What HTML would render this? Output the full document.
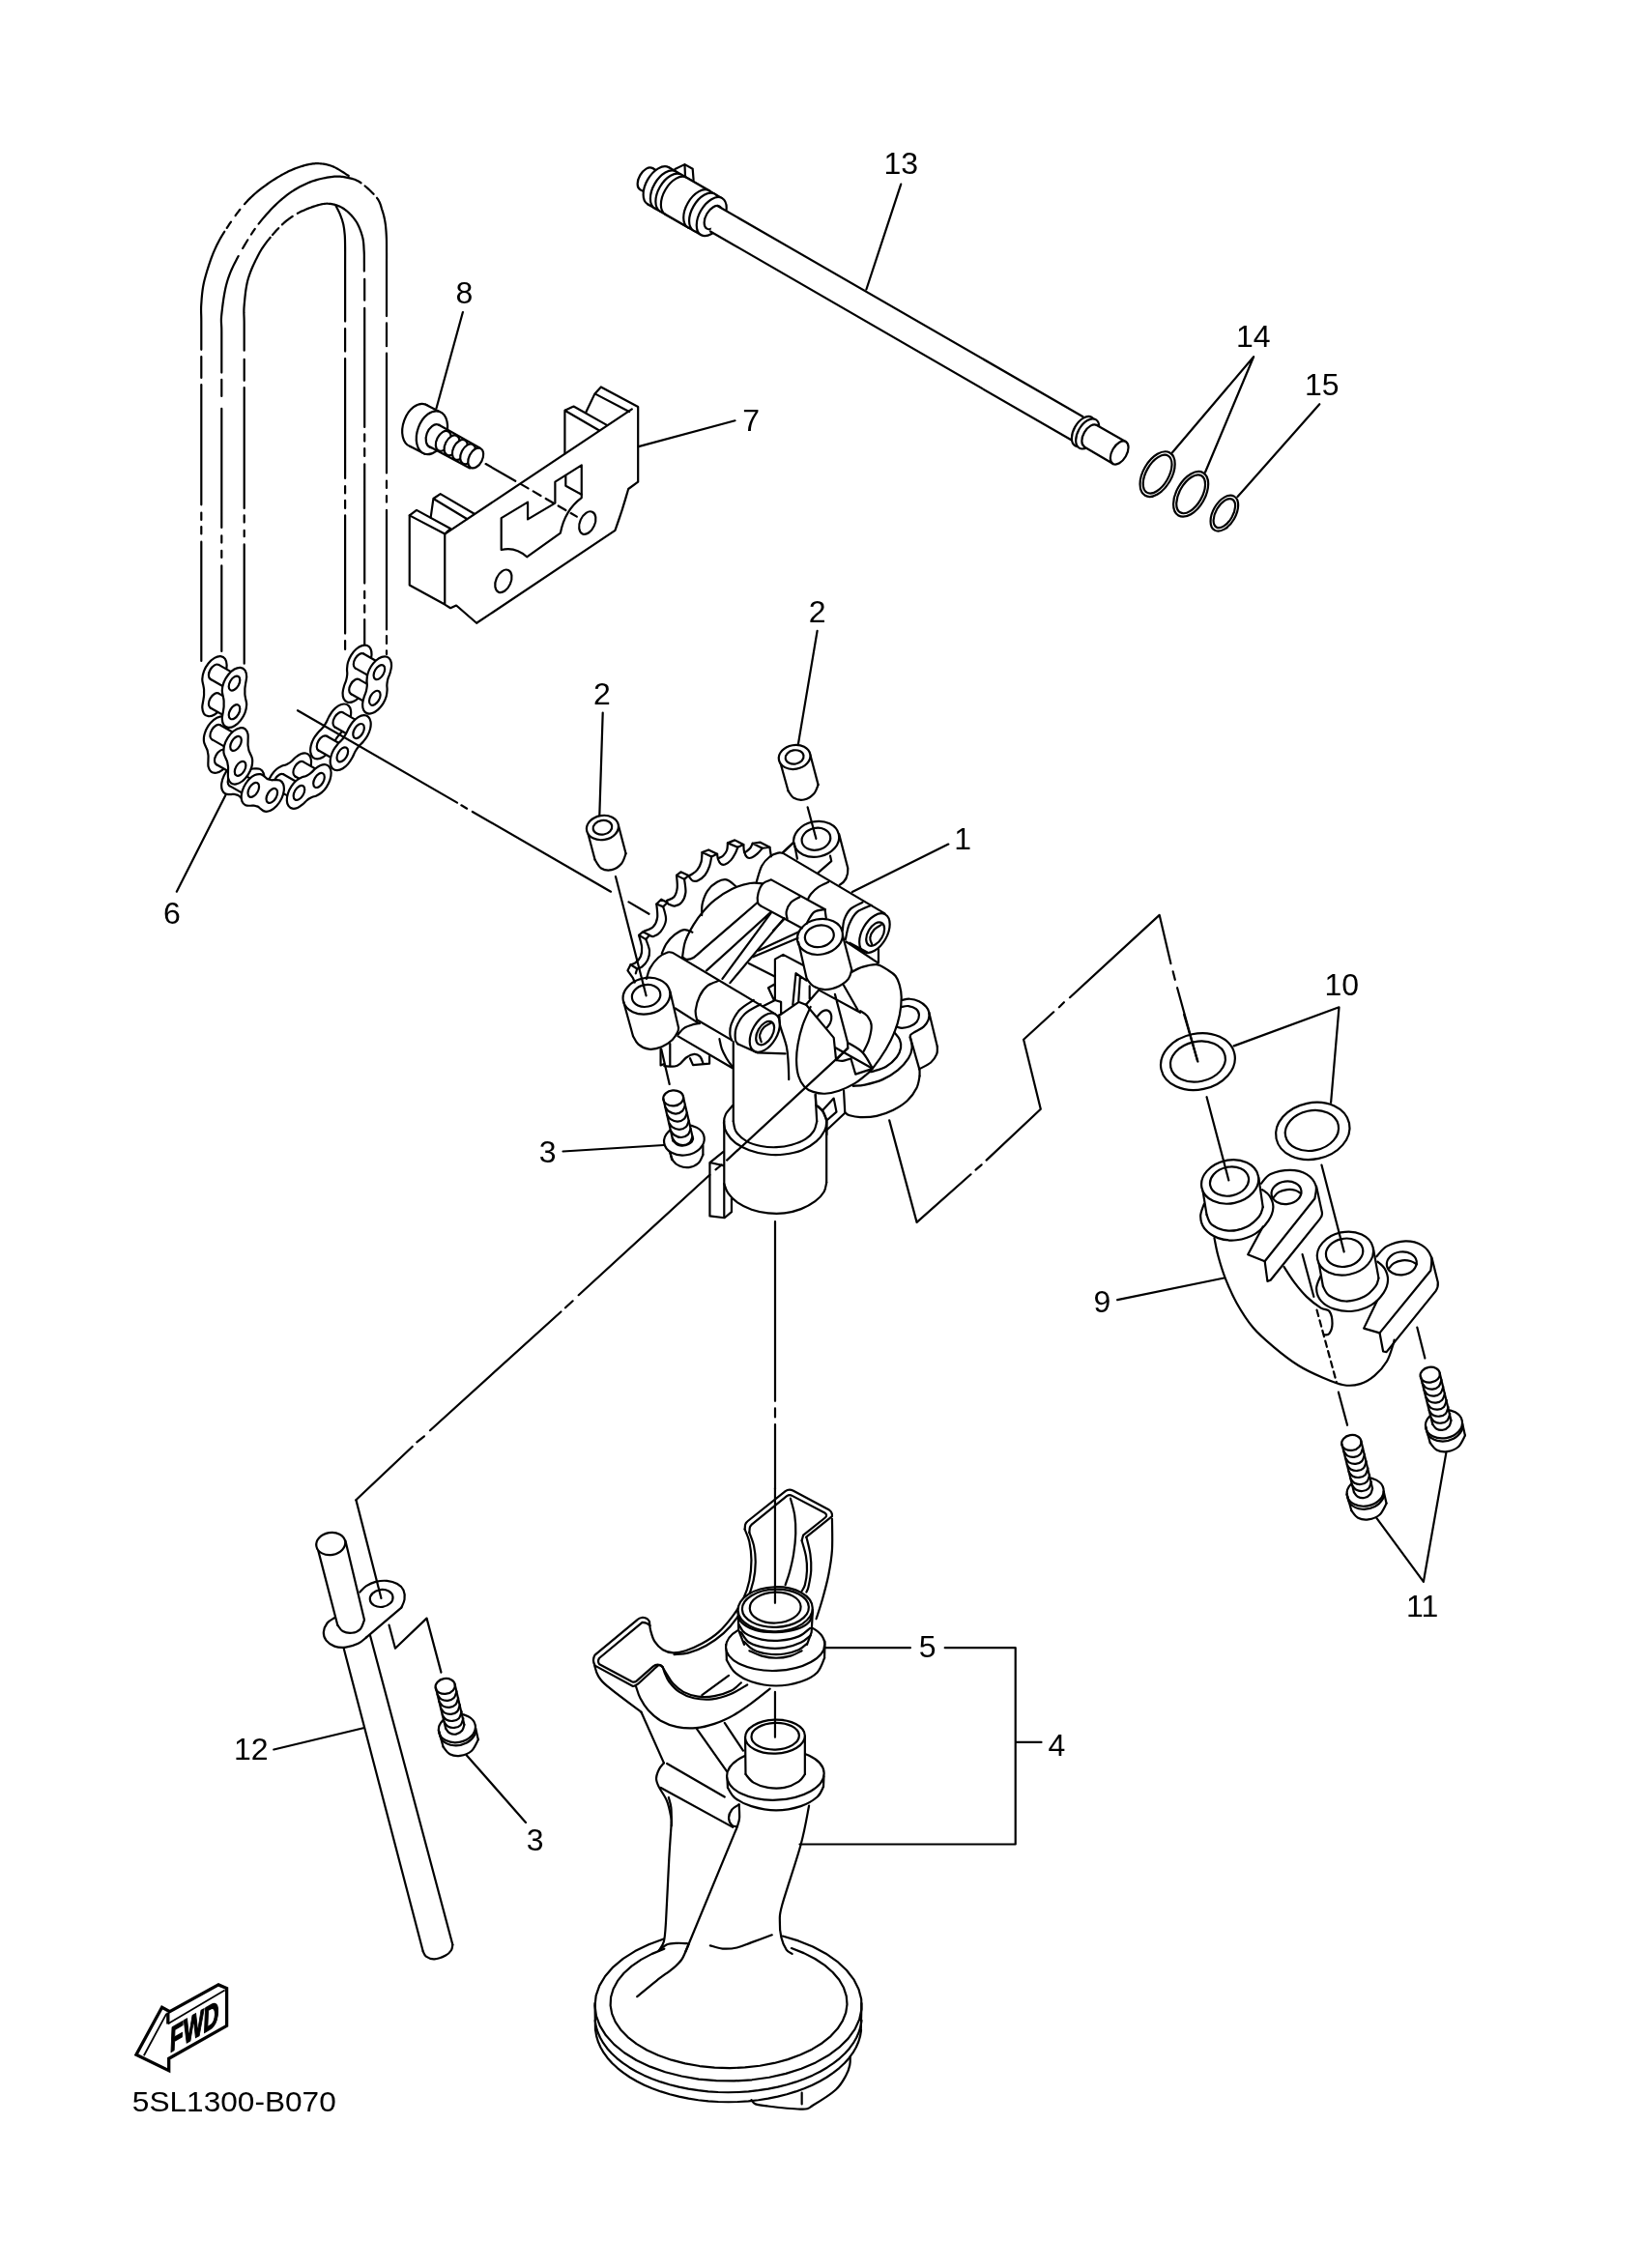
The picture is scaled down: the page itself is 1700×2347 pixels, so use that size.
<!DOCTYPE html>
<html><head><meta charset="utf-8"><title>5SL1300-B070</title>
<style>
html,body{margin:0;padding:0;background:#fff;}
svg{display:block;filter:grayscale(1);}
svg path,svg ellipse,svg line,svg polyline,svg polygon,svg circle,svg rect{vector-effect:non-scaling-stroke;}
.k{fill:none;stroke:#000;stroke-width:2.2;stroke-linecap:round;stroke-linejoin:round;}
.w{fill:#fff;stroke:#000;stroke-width:2.2;stroke-linecap:round;stroke-linejoin:round;}
.n{fill:#fff;stroke:none;}
.t{font-family:"Liberation Sans",sans-serif;font-size:32px;fill:#000;stroke:none;text-anchor:middle;}
</style></head><body>
<svg width="1700" height="2347" viewBox="0 0 1700 2347">
<rect x="0" y="0" width="1700" height="2347" fill="#fff" stroke="none"/>
<!-- 10_chain.svgfrag -->
<path class="k" d="M208.3,369 L208.3,391 M208.3,398 L208.3,522.3 M208.3,530.5 L208.3,537.9 M208.3,545 L208.3,552.5 M208.3,560.7 L208.3,684 M229.3,392.8 L229.3,410 M229.3,422.8 L229.3,546 M229.3,554.3 L229.3,561.6 M229.3,569.8 L229.3,577 M229.3,585.3 L229.3,674 M252.7,371.8 L252.7,393.8 M252.7,401 L252.7,526 M252.7,533.3 L252.7,540.6 M252.7,548.8 L252.7,555.2 M252.7,563.4 L252.7,686.7 M357.1,340 L357.1,363.6 M357.1,371 L357.1,495 M357.1,503 L357.1,510.5 M357.1,517.8 L357.1,526 M357.1,533.3 L357.1,655.6 M357.1,663 L357.1,672 M377.2,288.8 L377.2,310.7 M377.2,318.9 L377.2,442 M377.2,449.3 L377.2,456.6 M377.2,464 L377.2,472 M377.2,480.3 L377.2,603.6 M377.2,611.8 L377.2,619 M377.2,626.4 L377.2,633.7 M377.2,641 L377.2,668.4 M400,334.4 L400,358.2 M400,365.5 L400,489.5 M400,497.7 L400,505 M400,513.2 L400,519.6 M400,527.8 L400,651.4 M400,658.1 L400,666 M400,673.3 L400,677"/>
<g class="k" transform="translate(180,150) scale(0.18259)">
<path d="M155,1160 L155,1152.1 L155,1141.9 L155,1129.8 L155,1116.3 L155,1101.6 L155,1086.2 L155,1070.5 L155,1054.8 L155,1039.5 L155,1025 L155,1011.7 L155,1000 L154.9,989.7 L154.8,980.2 L154.6,971.5 L154.4,963.3 L154.1,955.6 L153.9,948.1 L153.8,940.8 L153.7,933.3 L153.8,925.7 L154,917.7 L154.4,909.2 L155,900 L155.7,890.3 L156.4,880.5 L157.1,870.5 L158,860.4 L158.9,850 L160,839.4 L161.3,828.5 L162.8,817.4 L164.6,806 L166.7,794.3 L169.2,782.3 L172,770 L175.3,757.1 L178.9,743.5 L182.9,729.4 L187.2,714.8 L191.8,700 L196.6,685 L201.6,670 L206.7,655.2 L212,640.6 L217.3,626.5 L222.6,612.9 L228,600 L233.4,587.8 L238.8,576.1 L244.2,564.8 L249.8,553.9 L255.4,543.3 L261.2,532.8 L267.2,522.5 L273.3,512.2 L279.7,501.9 L286.2,491.5 M300,470 L307.4,458.8 L315,447.3 L323,435.6 M348.2,400.1 L356.9,388.5 L365.6,377 L374.3,365.8 M400,335 L408.3,325.8 L416.4,317 L424.5,308.6 L432.6,300.6 L440.7,292.9 L448.8,285.4 L456.9,278.2 L465.2,271 L473.6,264 L482.2,257 L491,250 L500,243 L509.4,235.9 L519.1,228.8 L529.1,221.7 L539.3,214.7 L549.6,207.7 L560,200.9 L570.4,194.3 L580.7,187.9 L590.9,181.7 L600.9,175.8 L610.6,170.2 L620,165 L629.1,160.1 L637.9,155.5 L646.6,151.2 L655.2,147.1 L663.6,143.3 L671.9,139.7 L680.1,136.3 L688.1,133.1 L696.2,130.1 L704.1,127.3 L712.1,124.6 L720,122 L727.9,119.6 L735.6,117.3 L743.2,115.1 L750.7,113.1 L758.2,111.4 L765.6,109.8 L773,108.4 L780.4,107.2 L787.7,106.2 L795.1,105.6 L802.5,105.1 L810,105 L817.5,105.1 L825,105.4 L832.5,106 L840,106.8 L847.5,107.9 L855,109.1 L862.5,110.6 L870,112.4 L877.5,114.4 L885,116.7 L892.5,119.2 L900,122 L907.8,125.3 L916,129.4 L924.6,134 L933.3,139 L942.1,144.2 L950.6,149.6 L958.9,154.9 L966.7,159.9 L973.8,164.6 L980.2,168.8 L985.7,172.3 L990,175"/>
<path d="M270,1290 L270,1278.5 L270,1263.5 L270,1245.6 L270,1225.6 L270,1203.9 L270,1181.2 L270,1158.3 L270,1135.6 L270,1113.8 L270,1093.5 L270,1075.3 L270,1060 L269.9,1047.4 L269.7,1036.7 L269.3,1027.7 L268.9,1020 L268.5,1013.2 L268.1,1006.9 L267.9,1000.8 L267.8,994.4 L267.9,987.6 L268.3,979.8 L268.9,970.7 L270,960 L271.3,947.7 L272.9,934.3 L274.6,919.9 L276.5,904.8 L278.6,889.2 L280.9,873.1 L283.5,856.9 L286.3,840.7 L289.3,824.8 L292.6,809.2 L296.2,794.2 L300,780 L304,766.6 L308.2,753.6 L312.6,741.2 L317.2,729 L322.1,717 L327.2,705.2 L332.6,693.3 L338.3,681.3 L344.4,669.1 L350.9,656.6 L357.7,643.6 L365,630 M389.6,585.7 L398.7,570.1 L408.1,554.3 L417.8,538.3 M438,506.6 L448.3,491 L458.8,475.8 M480,447 L490.8,433.3 L501.9,419.7 L513.2,406.3 L524.8,393 L536.6,380.1 L548.4,367.4 L560.4,355 L572.4,343.1 L584.4,331.5 L596.4,320.5 L608.3,310 L620,300 L631.7,290.6 L643.3,281.7 L655,273.2 L666.7,265.2 L678.3,257.7 L690,250.5 L701.7,243.7 L713.3,237.3 L725,231.3 L736.7,225.6 L748.3,220.1 L760,215 L771.8,210.2 L783.9,205.8 L796.2,201.8 L808.5,198.1 L820.9,194.7 L833.1,191.8 L845.2,189.1 L857,186.7 L868.5,184.6 L879.6,182.8 L890.1,181.3 L900,180 L909.3,179 L918.1,178.5 L926.5,178.3 L934.4,178.4 L942.1,178.9 L949.4,179.6 L956.4,180.5 L963.3,181.6 L970.1,182.8 L976.7,184.1 L983.4,185.5 L990,187 L996.5,188.4 L1002.6,189.8 L1008.4,191.2 L1014.1,192.7 L1019.6,194.3 L1025,196.1 L1030.4,198.2 L1035.9,200.7 L1041.6,203.5 L1047.4,206.8 L1053.5,210.6 L1060,215 M1082.5,232.6 L1090.7,239.7 L1099.1,247.1 L1107.5,254.9 L1115.7,262.8 L1123.7,270.7 L1131.2,278.5 M1150,300 L1154.6,306.4 L1158.6,312.5 L1162,318.6 L1164.9,324.4 L1167.4,330.2 L1169.6,335.9 L1171.5,341.6 L1173.2,347.2 L1174.8,352.9 L1176.4,358.5 L1178.1,364.2 L1180,370 L1181.9,375.8 L1183.7,381.6 L1185.4,387.3 L1187,393 L1188.5,398.7 L1189.9,404.4 L1191.3,410.1 L1192.6,415.9 L1193.8,421.8 L1194.9,427.8 L1196,433.8 L1197,440 L1198,446.3 L1198.8,452.8 L1199.6,459.3 L1200.3,465.9 L1200.9,472.6 L1201.5,479.4 L1202,486.2 L1202.5,493 L1202.9,499.8 L1203.3,506.6 L1203.7,513.3 L1204,520 L1204.3,526.6 L1204.5,533.1 L1204.7,539.5 L1204.8,545.9 L1204.9,552.3 L1204.9,558.8 L1205,565.2 L1205,571.9 L1205,578.6 L1205,585.5 L1205,592.6 L1205,600 L1205,607.1 L1205.1,613.5 L1205.1,619.6 L1205.1,625.6 L1205.1,631.6 L1205.1,638.1 L1205.1,645.3 L1205,653.3 L1205,662.6 L1205,673.3 L1205,685.7 L1205,700 L1205,717.4 L1205,738.3 L1205,761.9 L1205,787.4 L1205,814.1 L1205,841.2 L1205,868 L1205,893.7 L1205,917.5 L1205,938.7 L1205,956.4 L1205,970"/>
<path d="M398,1165 L398,1157.3 L398,1147.5 L398,1135.9 L398,1122.8 L398,1108.6 L398,1093.8 L398,1078.5 L398,1063.3 L398,1048.5 L398,1034.4 L398,1021.5 L398,1010 L397.9,999.9 L397.7,990.7 L397.5,982.3 L397.2,974.4 L396.9,967 L396.6,959.7 L396.4,952.4 L396.4,945 L396.5,937.2 L396.7,928.9 L397.2,919.9 L398,910 L398.9,899.2 L400,887.8 L401.1,875.8 L402.3,863.3 L403.7,850.5 L405.2,837.5 L407,824.3 L409,811.1 L411.3,798 L413.9,785 L416.8,772.3 L420,760 L423.7,747.8 L427.8,735.5 L432.3,723.1 L437.2,710.7 L442.3,698.3 L447.6,686.1 L453.1,674.1 L458.6,662.4 L464.1,651.1 L469.6,640.2 L474.9,629.8 L480,620 L484.9,610.8 L489.8,602.3 L494.5,594.3 L499.3,586.8 L504,579.6 L508.8,572.7 L513.6,566 L518.5,559.3 L523.6,552.7 L528.8,546 L534.3,539.1 L540,532 L546,524.6 M558.6,509.5 L565.2,501.8 L571.9,494.2 L578.8,486.6 L585.7,479.1 L592.6,471.7 M613.3,451.2 L620,445 L626.6,439.2 L633.1,433.6 L639.5,428.3 L645.9,423.2 L652.3,418.4 L658.8,413.7 L665.2,409.2 L671.9,404.8 M700,388 L707.7,383.9 L715.7,379.8 L724.1,375.8 L732.6,371.8 L741.3,368 L750,364.2 L758.7,360.7 L767.4,357.3 L775.9,354.1 L784.3,351.1 L792.3,348.4 L800,346 L807.4,343.8 L814.5,341.7 L821.4,339.8 L828.1,338 L834.8,336.5 L841.2,335.2 L847.7,334.1 L854.1,333.3 L860.5,332.8 L866.9,332.5 L873.4,332.6 L880,333 L886.7,333.7 L893.4,334.7 L900.2,335.9 L907,337.4 L913.8,339.2 L920.6,341.3 L927.4,343.7 L934.1,346.3 L940.7,349.3 L947.2,352.5 L953.7,356.1 L960,360 L966.3,364.3 L972.6,368.9 L979,374 L985.3,379.4 L991.5,385.1 L997.6,391.1 L1003.6,397.2 L1009.4,403.6 L1015,410.1 L1020.3,416.7 L1025.3,423.3 L1030,430 L1034.4,436.8 L1038.5,444 L1042.4,451.3 L1046.1,458.9 L1049.6,466.6 L1052.8,474.4 L1055.8,482.2 L1058.7,490 L1061.3,497.7 L1063.7,505.3 L1066,512.8 L1068,520 L1069.8,527.1 L1071.3,534.1 L1072.5,541.2 L1073.4,548.1 L1074.2,555.1 L1074.8,561.9 L1075.3,568.6 L1075.7,575.2 L1076,581.6 L1076.3,587.9 L1076.6,594.1 L1077,600 L1077.4,605.7 L1077.6,611.2 L1077.8,616.5 L1078,621.7 L1078,626.7 L1078.1,631.6 L1078.1,636.4 L1078,641.1 L1078,645.8 L1078,650.5 L1078,655.2 L1078,660 L1078,664.9 L1078.1,670.1 L1078.1,675.4 L1078.1,680.7 L1078.1,686.1 L1078.1,691.2 L1078.1,696.2 L1078,700.9 L1078,705.2 L1078,709.1 L1078,712.4 L1078,715"/>
<path d="M915,340 C919.5,349.2 934.5,376.7 942,395 C949.5,413.3 955.7,430.8 960,450 C964.3,469.2 966.3,488.3 968,510 C969.7,531.7 969.7,548.3 970,580 C970.3,611.7 970,630 970,700 C970,770 970,950 970,1000"/>
</g>
<g class="k" transform="translate(190,650) scale(0.15216)">
<path class="w" d="M210,588.3 C223.9,580.3 239.7,566.3 251.7,551.3 C263.8,536.3 275.3,516.2 282.2,498.3 C289.2,480.3 292.6,459.6 293.3,443.6 C293.9,427.6 288.2,413.5 286.3,402.3 C284.4,391.1 282.6,384.3 281.8,376.3 C281,368.2 281.6,361.5 281.6,354.1 C281.6,346.7 281,340.7 281.8,331.8 C282.6,322.9 284.4,314 286.3,300.6 C288.2,287.2 293.9,266.5 293.3,251.3 C292.6,236.1 289.2,219.3 282.2,209.3 C275.3,199.3 263.8,192.6 251.7,191.5 C239.7,190.4 223.9,194.6 210,202.7 C196.1,210.7 180.3,224.7 168.3,239.7 C156.2,254.7 144.7,274.8 137.8,292.7 C130.8,310.7 127.4,331.4 126.7,347.4 C126.1,363.4 131.8,377.5 133.7,388.7 C135.6,399.9 137.4,406.7 138.2,414.7 C139,422.8 138.4,429.5 138.4,436.9 C138.4,444.3 139,450.3 138.2,459.2 C137.4,468.1 135.6,477 133.7,490.4 C131.8,503.8 126.1,524.5 126.7,539.7 C127.4,554.9 130.8,571.7 137.8,581.7 C144.7,591.7 156.2,598.4 168.3,599.5 C180.3,600.6 196.1,596.4 210,588.3 Z"/>
<path class="w" d="M265,963.1 C278.6,952.4 293.1,936 303.6,919.7 C314.2,903.4 323.4,882.8 328.1,865.2 C332.8,847.6 333.6,828.4 332.1,814.1 C330.5,799.7 322.7,788.4 318.9,778.9 C315.1,769.4 311.5,763.9 309.2,756.9 C307,750 306.6,743.9 305.4,737.3 C304.3,730.7 302.7,725.5 302.2,717.2 C301.8,708.8 302.8,699.7 302.7,687.2 C302.6,674.7 305.1,655.3 301.8,642.3 C298.5,629.3 292,616 282.9,609.2 C273.9,602.5 260.6,599.8 247.6,602 C234.6,604.3 218.5,612.2 205,622.9 C191.4,633.6 176.9,650 166.4,666.3 C155.8,682.6 146.6,703.2 141.9,720.8 C137.2,738.4 136.4,757.6 137.9,771.9 C139.5,786.3 147.3,797.6 151.1,807.1 C154.9,816.6 158.5,822.1 160.8,829.1 C163,836 163.4,842.1 164.6,848.7 C165.7,855.3 167.3,860.5 167.8,868.8 C168.2,877.2 167.2,886.3 167.3,898.8 C167.4,911.3 164.9,930.7 168.2,943.7 C171.5,956.7 178,970 187.1,976.8 C196.1,983.5 209.4,986.2 222.4,984 C235.4,981.7 251.5,973.8 265,963.1 Z"/>
<path class="w" d="M530.3,1083.9 C538.6,1066.8 544.8,1046.5 546.9,1029.9 C548.9,1013.3 547.3,996.3 542.7,984.4 C538.1,972.5 528.8,963.4 519.4,958.6 C509.9,953.8 495.7,955.8 486.1,955.4 C476.5,955.1 468.6,957.1 462,956.6 C455.4,956.1 451.5,953.9 446.5,952.3 C441.4,950.7 436.8,950.1 431.5,946.8 C426.2,943.6 422.1,937.7 414.8,932.6 C407.6,927.6 398.8,918.2 387.8,916.5 C376.9,914.8 362.5,916.3 349.1,922.4 C335.8,928.6 320.3,940.1 307.9,953.4 C295.5,966.7 283,985 274.7,1002.1 C266.4,1019.2 260.2,1039.5 258.1,1056.1 C256.1,1072.7 257.7,1089.7 262.3,1101.6 C266.9,1113.5 276.2,1122.6 285.6,1127.4 C295.1,1132.2 309.3,1130.2 318.9,1130.6 C328.5,1130.9 336.4,1128.9 343,1129.4 C349.6,1129.9 353.5,1132.1 358.5,1133.7 C363.6,1135.3 368.2,1135.9 373.5,1139.2 C378.8,1142.4 382.9,1148.3 390.2,1153.4 C397.4,1158.4 406.2,1167.8 417.2,1169.5 C428.1,1171.2 442.5,1169.7 455.9,1163.6 C469.2,1157.4 484.7,1145.9 497.1,1132.6 C509.5,1119.3 522,1101 530.3,1083.9 Z"/>
<path class="w" d="M867.9,905.8 C867.3,891.6 863.3,877.9 857.1,868.8 C850.9,859.7 841.1,853.4 830.9,851.3 C820.7,849.2 807.6,851.4 796,856 C784.3,860.6 771.2,870.8 760.8,879 C750.5,887.1 741.7,898.2 733.9,905 C726.1,911.8 720.8,915.6 714.3,919.7 C707.7,923.9 702.3,926.7 694.4,929.8 C686.5,932.9 677.3,933.2 666.8,938.2 C656.3,943.1 643.1,949.5 631.6,959.5 C620.1,969.5 607.5,983.4 598,997.9 C588.5,1012.5 579.6,1030.5 574.5,1046.7 C569.3,1062.9 566.6,1080.9 567.1,1095.2 C567.7,1109.4 571.7,1123.1 577.9,1132.2 C584.1,1141.3 593.9,1147.6 604.1,1149.7 C614.3,1151.8 627.4,1149.6 639,1145 C650.7,1140.4 663.8,1130.2 674.2,1122 C684.5,1113.9 693.3,1102.8 701.1,1096 C708.9,1089.2 714.2,1085.4 720.7,1081.3 C727.3,1077.1 732.7,1074.3 740.6,1071.2 C748.5,1068.1 757.7,1067.8 768.2,1062.8 C778.7,1057.9 791.9,1051.5 803.4,1041.5 C814.9,1031.5 827.5,1017.6 837,1003.1 C846.5,988.5 855.4,970.5 860.5,954.3 C865.7,938.1 868.4,920.1 867.9,905.8 Z"/>
<path class="w" d="M1121,526.9 C1113.3,519.7 1102,515.6 1090.5,515.9 C1079.1,516.1 1064.9,521 1052.5,528.4 C1040,535.8 1026.5,548.1 1015.8,560.5 C1005.1,572.8 995.6,589.5 988.2,602.5 C980.8,615.5 976.5,628.4 971.2,638.3 C966,648.3 961.9,654.6 956.7,662.2 C951.4,669.7 947.1,675.8 939.9,683.9 C932.7,692.1 922.9,699.7 913.6,711 C904.4,722.2 892.5,736.6 884.5,751.5 C876.4,766.4 869.1,784.5 865.5,800.3 C862,816.1 861,833.4 863.2,846.5 C865.4,859.6 871.3,871.8 879,879.1 C886.7,886.3 898,890.4 909.5,890.1 C920.9,889.9 935.1,885 947.5,877.6 C960,870.2 973.5,857.9 984.2,845.5 C994.9,833.2 1004.4,816.5 1011.8,803.5 C1019.2,790.5 1023.5,777.6 1028.8,767.7 C1034,757.7 1038.1,751.4 1043.3,743.8 C1048.6,736.3 1052.9,730.2 1060.1,722.1 C1067.3,713.9 1077.1,706.3 1086.4,695 C1095.6,683.8 1107.5,669.4 1115.5,654.5 C1123.6,639.6 1130.9,621.5 1134.5,605.7 C1138,589.9 1139,572.6 1136.8,559.5 C1134.6,546.4 1128.7,534.2 1121,526.9 Z"/>
<path class="w" d="M1212.8,119.2 C1200.3,123.3 1185.6,132.2 1173.2,143.1 C1160.9,154 1148.2,169.5 1138.8,184.5 C1129.5,199.5 1121.7,217.7 1117.1,233.2 C1112.4,248.8 1111.8,265 1111,277.6 C1110.3,290.3 1112.8,299.8 1112.6,309.1 C1112.5,318.3 1111.4,325 1110,333.1 C1108.6,341.3 1107.4,348 1104.2,358.2 C1101,368.5 1094.7,380.9 1091,394.5 C1087.2,408.1 1082.1,425.8 1081.6,440 C1081.2,454.1 1083.3,469.1 1088.3,479.5 C1093.3,489.9 1101.9,498.5 1111.7,502.2 C1121.5,505.9 1134.7,505.8 1147.2,501.8 C1159.7,497.7 1174.4,488.8 1186.8,477.9 C1199.1,467 1211.8,451.5 1221.2,436.5 C1230.5,421.5 1238.3,403.3 1242.9,387.8 C1247.6,372.2 1248.2,356 1249,343.4 C1249.7,330.7 1247.2,321.2 1247.4,311.9 C1247.5,302.7 1248.6,296 1250,287.9 C1251.4,279.7 1252.6,273 1255.8,262.8 C1259,252.5 1265.3,240.1 1269,226.5 C1272.8,212.9 1277.9,195.2 1278.4,181 C1278.8,166.9 1276.7,151.9 1271.7,141.5 C1266.7,131.1 1258.1,122.5 1248.3,118.8 C1238.5,115.1 1225.3,115.2 1212.8,119.2 Z"/>
<ellipse class="w" cx="210" cy="298" rx="32.5" ry="56.3" transform="rotate(30 210 298)"/>
<path class="n" d="M238.2,249.2 L373.2,326.2 L316.8,423.8 L181.8,346.8 Z"/>
<path d="M238.2,249.2 L373.2,326.2 M316.8,423.8 L181.8,346.8"/>
<ellipse class="w" cx="210" cy="493" rx="32.5" ry="56.3" transform="rotate(30 210 493)"/>
<path class="n" d="M238.2,444.2 L373.2,521.2 L316.8,618.8 L181.8,541.8 Z"/>
<path d="M238.2,444.2 L373.2,521.2 M316.8,618.8 L181.8,541.8"/>
<ellipse class="w" cx="220" cy="708" rx="32.5" ry="56.3" transform="rotate(30 220 708)"/>
<path class="n" d="M248.2,659.2 L383.2,736.2 L326.8,833.8 L191.8,756.8 Z"/>
<path d="M248.2,659.2 L383.2,736.2 M326.8,833.8 L191.8,756.8"/>
<ellipse class="w" cx="250" cy="878" rx="32.5" ry="56.3" transform="rotate(30 250 878)"/>
<path class="n" d="M278.2,829.2 L413.2,906.2 L356.8,1003.8 L221.8,926.8 Z"/>
<path d="M278.2,829.2 L413.2,906.2 M356.8,1003.8 L221.8,926.8"/>
<ellipse class="w" cx="340" cy="1023" rx="32.5" ry="56.3" transform="rotate(30 340 1023)"/>
<path class="n" d="M368.2,974.2 L503.2,1051.2 L446.8,1148.8 L311.8,1071.8 Z"/>
<path d="M368.2,974.2 L503.2,1051.2 M446.8,1148.8 L311.8,1071.8"/>
<ellipse class="w" cx="465" cy="1063" rx="32.5" ry="56.3" transform="rotate(30 465 1063)"/>
<path class="n" d="M493.2,1014.2 L628.2,1091.2 L571.8,1188.8 L436.8,1111.8 Z"/>
<path d="M493.2,1014.2 L628.2,1091.2 M571.8,1188.8 L436.8,1111.8"/>
<ellipse class="w" cx="650" cy="1043" rx="32.5" ry="56.3" transform="rotate(30 650 1043)"/>
<path class="n" d="M678.2,994.2 L813.2,1071.2 L756.8,1168.8 L621.8,1091.8 Z"/>
<path d="M678.2,994.2 L813.2,1071.2 M756.8,1168.8 L621.8,1091.8"/>
<ellipse class="w" cx="785" cy="958" rx="32.5" ry="56.3" transform="rotate(30 785 958)"/>
<path class="n" d="M813.2,909.2 L948.2,986.2 L891.8,1083.8 L756.8,1006.8 Z"/>
<path d="M813.2,909.2 L948.2,986.2 M891.8,1083.8 L756.8,1006.8"/>
<ellipse class="w" cx="945" cy="783" rx="32.5" ry="56.3" transform="rotate(30 945 783)"/>
<path class="n" d="M973.2,734.2 L1108.2,811.2 L1051.8,908.8 L916.8,831.8 Z"/>
<path d="M973.2,734.2 L1108.2,811.2 M1051.8,908.8 L916.8,831.8"/>
<ellipse class="w" cx="1055" cy="623" rx="32.5" ry="56.3" transform="rotate(30 1055 623)"/>
<path class="n" d="M1083.2,574.2 L1218.2,651.2 L1161.8,748.8 L1026.8,671.8 Z"/>
<path d="M1083.2,574.2 L1218.2,651.2 M1161.8,748.8 L1026.8,671.8"/>
<ellipse class="w" cx="1165" cy="398" rx="32.5" ry="56.3" transform="rotate(30 1165 398)"/>
<path class="n" d="M1193.2,349.2 L1328.2,426.2 L1271.8,523.8 L1136.8,446.8 Z"/>
<path d="M1193.2,349.2 L1328.2,426.2 M1271.8,523.8 L1136.8,446.8"/>
<ellipse class="w" cx="1195" cy="223" rx="32.5" ry="56.3" transform="rotate(30 1195 223)"/>
<path class="n" d="M1223.2,174.2 L1358.2,251.2 L1301.8,348.8 L1166.8,271.8 Z"/>
<path d="M1223.2,174.2 L1358.2,251.2 M1301.8,348.8 L1166.8,271.8"/>
<path class="w" d="M400,1040.1 C413.6,1029.4 428.1,1013 438.6,996.7 C449.2,980.4 458.4,959.8 463.1,942.2 C467.8,924.6 468.6,905.4 467.1,891.1 C465.5,876.7 457.7,865.4 453.9,855.9 C450.1,846.4 446.5,840.9 444.2,833.9 C442,827 441.6,820.9 440.4,814.3 C439.3,807.7 437.7,802.5 437.2,794.2 C436.8,785.8 437.8,776.7 437.7,764.2 C437.6,751.7 440.1,732.3 436.8,719.3 C433.5,706.3 427,693 417.9,686.2 C408.9,679.5 395.6,676.8 382.6,679 C369.6,681.3 353.5,689.2 340,699.9 C326.4,710.6 311.9,727 301.4,743.3 C290.8,759.6 281.6,780.2 276.9,797.8 C272.2,815.4 271.4,834.6 272.9,848.9 C274.5,863.3 282.3,874.6 286.1,884.1 C289.9,893.6 293.5,899.1 295.8,906.1 C298,913 298.4,919.1 299.6,925.7 C300.7,932.3 302.3,937.5 302.8,945.8 C303.2,954.2 302.2,963.3 302.3,975.8 C302.4,988.3 299.9,1007.7 303.2,1020.7 C306.5,1033.7 313,1047 322.1,1053.8 C331.1,1060.5 344.4,1063.2 357.4,1061 C370.4,1058.7 386.5,1050.8 400,1040.1 Z"/>
<ellipse cx="355" cy="785" rx="31.1" ry="53.9" transform="rotate(30 355 785)"/>
<ellipse cx="385" cy="955" rx="31.1" ry="53.9" transform="rotate(30 385 955)"/>
<path class="w" d="M345,665.3 C358.9,657.3 374.7,643.3 386.7,628.3 C398.8,613.3 410.3,593.2 417.2,575.3 C424.2,557.3 427.6,536.6 428.3,520.6 C428.9,504.6 423.2,490.5 421.3,479.3 C419.4,468.1 417.6,461.3 416.8,453.3 C416,445.2 416.6,438.5 416.6,431.1 C416.6,423.7 416,417.7 416.8,408.8 C417.6,399.9 419.4,391 421.3,377.6 C423.2,364.2 428.9,343.5 428.3,328.3 C427.6,313.1 424.2,296.3 417.2,286.3 C410.3,276.3 398.8,269.6 386.7,268.5 C374.7,267.4 358.9,271.6 345,279.7 C331.1,287.7 315.3,301.7 303.3,316.7 C291.2,331.7 279.7,351.8 272.8,369.7 C265.8,387.7 262.4,408.4 261.7,424.4 C261.1,440.4 266.8,454.5 268.7,465.7 C270.6,476.9 272.4,483.7 273.2,491.7 C274,499.8 273.4,506.5 273.4,513.9 C273.4,521.3 274,527.3 273.2,536.2 C272.4,545.1 270.6,554 268.7,567.4 C266.8,580.8 261.1,601.5 261.7,616.7 C262.4,631.9 265.8,648.7 272.8,658.7 C279.7,668.7 291.2,675.4 303.3,676.5 C315.3,677.6 331.1,673.4 345,665.3 Z"/>
<ellipse cx="345" cy="375" rx="31.1" ry="53.9" transform="rotate(30 345 375)"/>
<ellipse cx="345" cy="570" rx="31.1" ry="53.9" transform="rotate(30 345 570)"/>
<path class="w" d="M665.3,1160.9 C673.6,1143.8 679.8,1123.5 681.9,1106.9 C683.9,1090.3 682.3,1073.3 677.7,1061.4 C673.1,1049.5 663.8,1040.4 654.4,1035.6 C644.9,1030.8 630.7,1032.8 621.1,1032.4 C611.5,1032.1 603.6,1034.1 597,1033.6 C590.4,1033.1 586.5,1030.9 581.5,1029.3 C576.4,1027.7 571.8,1027.1 566.5,1023.8 C561.2,1020.6 557.1,1014.7 549.8,1009.6 C542.6,1004.6 533.8,995.2 522.8,993.5 C511.9,991.8 497.5,993.3 484.1,999.4 C470.8,1005.6 455.3,1017.1 442.9,1030.4 C430.5,1043.7 418,1062 409.7,1079.1 C401.4,1096.2 395.2,1116.5 393.1,1133.1 C391.1,1149.7 392.7,1166.7 397.3,1178.6 C401.9,1190.5 411.2,1199.6 420.6,1204.4 C430.1,1209.2 444.3,1207.2 453.9,1207.6 C463.5,1207.9 471.4,1205.9 478,1206.4 C484.6,1206.9 488.5,1209.1 493.5,1210.7 C498.6,1212.3 503.2,1212.9 508.5,1216.2 C513.8,1219.4 517.9,1225.3 525.2,1230.4 C532.4,1235.4 541.2,1244.8 552.2,1246.5 C563.1,1248.2 577.5,1246.7 590.9,1240.6 C604.2,1234.4 619.7,1222.9 632.1,1209.6 C644.5,1196.3 657,1178 665.3,1160.9 Z"/>
<ellipse cx="475" cy="1100" rx="31.1" ry="53.9" transform="rotate(30 475 1100)"/>
<ellipse cx="600" cy="1140" rx="31.1" ry="53.9" transform="rotate(30 600 1140)"/>
<path class="w" d="M1002.9,982.8 C1002.3,968.6 998.3,954.9 992.1,945.8 C985.9,936.7 976.1,930.4 965.9,928.3 C955.7,926.2 942.6,928.4 931,933 C919.3,937.6 906.2,947.8 895.8,956 C885.5,964.1 876.7,975.2 868.9,982 C861.1,988.8 855.8,992.6 849.3,996.7 C842.7,1000.9 837.3,1003.7 829.4,1006.8 C821.5,1009.9 812.3,1010.2 801.8,1015.2 C791.3,1020.1 778.1,1026.5 766.6,1036.5 C755.1,1046.5 742.5,1060.4 733,1074.9 C723.5,1089.5 714.6,1107.5 709.5,1123.7 C704.3,1139.9 701.6,1157.9 702.1,1172.2 C702.7,1186.4 706.7,1200.1 712.9,1209.2 C719.1,1218.3 728.9,1224.6 739.1,1226.7 C749.3,1228.8 762.4,1226.6 774,1222 C785.7,1217.4 798.8,1207.2 809.2,1199 C819.5,1190.9 828.3,1179.8 836.1,1173 C843.9,1166.2 849.2,1162.4 855.7,1158.3 C862.3,1154.1 867.7,1151.3 875.6,1148.2 C883.5,1145.1 892.7,1144.8 903.2,1139.8 C913.7,1134.9 926.9,1128.5 938.4,1118.5 C949.9,1108.5 962.5,1094.6 972,1080.1 C981.5,1065.5 990.4,1047.5 995.5,1031.3 C1000.7,1015.1 1003.4,997.1 1002.9,982.8 Z"/>
<ellipse cx="785" cy="1120" rx="31.1" ry="53.9" transform="rotate(30 785 1120)"/>
<ellipse cx="920" cy="1035" rx="31.1" ry="53.9" transform="rotate(30 920 1035)"/>
<path class="w" d="M1256,603.9 C1248.3,596.7 1237,592.6 1225.5,592.9 C1214.1,593.1 1199.9,598 1187.5,605.4 C1175,612.8 1161.5,625.1 1150.8,637.5 C1140.1,649.8 1130.6,666.5 1123.2,679.5 C1115.8,692.5 1111.5,705.4 1106.2,715.3 C1101,725.3 1096.9,731.6 1091.7,739.2 C1086.4,746.7 1082.1,752.8 1074.9,760.9 C1067.7,769.1 1057.9,776.7 1048.6,788 C1039.4,799.2 1027.5,813.6 1019.5,828.5 C1011.4,843.4 1004.1,861.5 1000.5,877.3 C997,893.1 996,910.4 998.2,923.5 C1000.4,936.6 1006.3,948.8 1014,956.1 C1021.7,963.3 1033,967.4 1044.5,967.1 C1055.9,966.9 1070.1,962 1082.5,954.6 C1095,947.2 1108.5,934.9 1119.2,922.5 C1129.9,910.2 1139.4,893.5 1146.8,880.5 C1154.2,867.5 1158.5,854.6 1163.8,844.7 C1169,834.7 1173.1,828.4 1178.3,820.8 C1183.6,813.3 1187.9,807.2 1195.1,799.1 C1202.3,790.9 1212.1,783.3 1221.4,772 C1230.6,760.8 1242.5,746.4 1250.5,731.5 C1258.6,716.6 1265.9,698.5 1269.5,682.7 C1273,666.9 1274,649.6 1271.8,636.5 C1269.6,623.4 1263.7,611.2 1256,603.9 Z"/>
<ellipse cx="1080" cy="860" rx="31.1" ry="53.9" transform="rotate(30 1080 860)"/>
<ellipse cx="1190" cy="700" rx="31.1" ry="53.9" transform="rotate(30 1190 700)"/>
<path class="w" d="M1347.8,196.2 C1335.3,200.3 1320.6,209.2 1308.2,220.1 C1295.9,231 1283.2,246.5 1273.8,261.5 C1264.5,276.5 1256.7,294.7 1252.1,310.2 C1247.4,325.8 1246.8,342 1246,354.6 C1245.3,367.3 1247.8,376.8 1247.6,386.1 C1247.5,395.3 1246.4,402 1245,410.1 C1243.6,418.3 1242.4,425 1239.2,435.2 C1236,445.5 1229.7,457.9 1226,471.5 C1222.2,485.1 1217.1,502.8 1216.6,517 C1216.2,531.1 1218.3,546.1 1223.3,556.5 C1228.3,566.9 1236.9,575.5 1246.7,579.2 C1256.5,582.9 1269.7,582.8 1282.2,578.8 C1294.7,574.7 1309.4,565.8 1321.8,554.9 C1334.1,544 1346.8,528.5 1356.2,513.5 C1365.5,498.5 1373.3,480.3 1377.9,464.8 C1382.6,449.2 1383.2,433 1384,420.4 C1384.7,407.7 1382.2,398.2 1382.4,388.9 C1382.5,379.7 1383.6,373 1385,364.9 C1386.4,356.7 1387.6,350 1390.8,339.8 C1394,329.5 1400.3,317.1 1404,303.5 C1407.8,289.9 1412.9,272.2 1413.4,258 C1413.8,243.9 1411.7,228.9 1406.7,218.5 C1401.7,208.1 1393.1,199.5 1383.3,195.8 C1373.5,192.1 1360.3,192.2 1347.8,196.2 Z"/>
<ellipse cx="1300" cy="475" rx="31.1" ry="53.9" transform="rotate(30 1300 475)"/>
<ellipse cx="1330" cy="300" rx="31.1" ry="53.9" transform="rotate(30 1330 300)"/>
</g>

<!-- 20_plate7.svgfrag -->
<!-- view [400,380]+300 -->
<g class="k" transform="translate(400,380) scale(0.18259)">
  <!-- bolt 8 -->
  <ellipse class="w" cx="177" cy="330" rx="82" ry="127" transform="rotate(20 177 330)"/>
  <path class="n" d="M222,212 L297,250 L217,492 L132,448 Z"/>
  <path d="M222,212 L297,250 M132,448 L217,492"/>
  <ellipse class="w" cx="257" cy="371" rx="82" ry="127" transform="rotate(20 257 371)"/>
  <ellipse class="w" cx="270" cy="390" rx="44" ry="68" transform="rotate(20 270 390)"/>
  <path class="n" d="M300,327 L530,458 L472,572 L245,452 Z"/>
  <ellipse class="w" cx="322" cy="418" rx="38" ry="61" transform="rotate(27 322 418)"/>
  <ellipse class="w" cx="370" cy="443" rx="38" ry="61" transform="rotate(27 370 443)"/>
  <ellipse class="w" cx="416" cy="468" rx="38" ry="61" transform="rotate(27 416 468)"/>
  <ellipse class="w" cx="461" cy="492" rx="38" ry="61" transform="rotate(27 461 492)"/>
  <ellipse class="w" cx="505" cy="515" rx="38" ry="61" transform="rotate(27 505 515)"/>
  <path d="M297,327 L530,458 M247,452 L472,572"/>
  <!-- centre line bolt->hole -->
  <path d="M562,548 L730,645"/>
  <path d="M760,662 L1078,847" stroke-dasharray="9 6"/>
  <!-- plate 7 -->
  <path d="M330,945 L1390,238"/>
  <path d="M130,840 L170,810 L362,915 L330,945 Z"/>
  <path d="M130,840 L130,1235 L330,1345 M330,945 L330,1345 L362,1365 L395,1350 L510,1450 L1295,925 Q1340,800 1370,690 L1425,650 L1425,225 L1215,112 L1180,150 L1375,252 M1180,150 L1130,255"/>
  <path d="M265,745 L305,718 L495,830 M265,745 L455,860 M265,745 L250,852"/>
  <path d="M1010,490 L1010,245 L1060,222 L1248,328 M1010,245 L1203,357"/>
  <!-- window -->
  <path d="M1105,555 L955,650 L955,770 L800,862 L800,765 L650,855 L650,1035 Q730,1015 795,1075 L985,940 Q1010,810 1105,740 Z"/>
  <path d="M1015,615 L1015,672 L1105,722"/>
  <ellipse cx="1138" cy="882" rx="42" ry="68" transform="rotate(24 1138 882)"/>
  <ellipse cx="662" cy="1212" rx="42" ry="68" transform="rotate(24 662 1212)"/>
</g>

<!-- 30_shaft.svgfrag -->
<g class="k" transform="translate(640,140) scale(0.18259)">
<path d="M320,192 L375,165 L420,190 L425,254 M375,165 L378,236"/>
<ellipse class="w" cx="157" cy="246.8" rx="40.4" ry="70" transform="rotate(30 157 246.8)"/>
<path class="n" d="M192,186.2 L235,211 L165,332.2 L122,307.4 Z"/><path d="M192,186.2 L235,211 M165,332.2 L122,307.4"/>
<ellipse class="w" cx="225" cy="286.1" rx="69.2" ry="120" transform="rotate(30 225 286.1)"/>
<path class="n" d="M285,182.1 L587,356.5 L467,564.4 L165,390 Z"/><path d="M285,182.1 L587,356.5 M467,564.4 L165,390"/>
<ellipse class="w" cx="265" cy="309.2" rx="69.2" ry="120" transform="rotate(30 265 309.2)"/>
<ellipse class="w" cx="295" cy="326.5" rx="69.2" ry="120" transform="rotate(30 295 326.5)"/>
<ellipse class="w" cx="325" cy="343.8" rx="69.2" ry="120" transform="rotate(30 325 343.8)"/>
<path class="n" d="M385,239.9 L513,313.8 L393,521.6 L265,447.7 Z"/><path d="M385,239.9 L513,313.8 M393,521.6 L265,447.7"/>
<ellipse class="w" cx="453" cy="417.7" rx="69.2" ry="120" transform="rotate(30 453 417.7)"/>
<ellipse class="w" cx="485" cy="436.2" rx="69.2" ry="120" transform="rotate(30 485 436.2)"/>
<ellipse class="w" cx="527" cy="460.4" rx="69.2" ry="120" transform="rotate(30 527 460.4)"/>
<ellipse class="w" cx="537" cy="466.2" rx="42" ry="72.8" transform="rotate(30 537 466.2)"/>
</g>
<path class="n" d="M742.3,213 L1120.6,431.2 L1111,456.8 L735,239.5 Z"/><path class="k" d="M742.3,213 L1120.6,431.2 M735,239.5 L1111,456.8"/>
<g class="k" transform="translate(1050,300) scale(0.21302)">
<ellipse class="w" cx="333" cy="688" rx="46.2" ry="80" transform="rotate(30 333 688)"/>
<ellipse class="w" cx="353" cy="699" rx="46.2" ry="80" transform="rotate(30 353 699)"/>
<ellipse class="w" cx="368" cy="709" rx="34.6" ry="60" transform="rotate(30 368 709)"/>
<path class="n" d="M398,657 L538,737 L478,845 L338,763 Z"/>
<path d="M398,657 L538,737 M338,763 L478,845"/>
<ellipse class="w" cx="508" cy="791" rx="35.8" ry="62" transform="rotate(30 508 791)"/>
<ellipse class="k" cx="693" cy="895" rx="69.2" ry="120" transform="rotate(30 693 895)"/>
<ellipse class="k" cx="693" cy="895" rx="54.6" ry="103" transform="rotate(30 693 895)"/>
<ellipse class="k" cx="855" cy="992" rx="69.2" ry="120" transform="rotate(30 855 992)"/>
<ellipse class="k" cx="855" cy="992" rx="54.6" ry="103" transform="rotate(30 855 992)"/>
<ellipse class="k" cx="1018" cy="1085" rx="54.8" ry="95" transform="rotate(30 1018 1085)"/>
<ellipse class="k" cx="1018" cy="1085" rx="41.3" ry="78" transform="rotate(30 1018 1085)"/>
</g>

<!-- 40_pump.svgfrag -->
<g class="k" transform="translate(690,860) scale(0.06695)">
<path d="M150,685 L215,632 L335,688 L270,745 Z"/>
<path d="M545,330 L645,290 L778,355 L690,395 Z"/>
<path d="M940,185 L1050,140 L1185,210 L1095,250 Z"/>
<path d="M1325,190 L1445,175 L1590,250 L1475,265 Z"/>
<path d="M1590,250 L1612,395"/>
<path d="M1185,210 C1186.7,228.3 1185.8,287.5 1195,320 C1204.2,352.5 1220.8,389.7 1240,405 C1259.2,420.3 1283.3,421.2 1310,412 C1336.7,402.8 1372.5,374.5 1400,350 C1427.5,325.5 1462.5,279.2 1475,265"/>
<path d="M1325,190 C1319.2,202 1306.7,240.7 1290,262 C1273.3,283.3 1240.3,307 1225,318 C1209.7,329 1202.5,326.3 1198,328"/>
<path d="M778,355 C780.3,369.2 783,415 792,440 C801,465 814,492.5 832,505 C850,517.5 873.7,524.2 900,515 C926.3,505.8 963.3,479.2 990,450 C1016.7,420.8 1042.5,373.3 1060,340 C1077.5,306.7 1089.2,265 1095,250"/>
<path d="M940,185 C938,203.3 939.7,262.2 928,295 C916.3,327.8 891.3,361.5 870,382 C848.7,402.5 811.7,412 800,418"/>
<path d="M335,690 C337.5,694.2 339.2,701.7 350,715 C360.8,728.3 378.3,761.7 400,770 C421.7,778.3 448.3,780 480,765 C511.7,750 560,717.5 590,680 C620,642.5 643.3,587.5 660,540 C676.7,492.5 685,419.2 690,395"/>
<path d="M545,330 C542.5,355 542.5,435 530,480 C517.5,525 495,568 470,600 C445,632 402.5,657 380,672 C357.5,687 342.5,687 335,690"/>
<path d="M270,745 C273.3,779.2 296.7,890.8 290,950 C283.3,1009.2 258.3,1065 230,1100 C201.7,1135 153.3,1155 120,1160 C86.7,1165 50,1140 30,1130 C10,1120 5,1105 0,1100"/>
<path d="M150,685 C151.7,717.5 166.7,824.2 160,880 C153.3,935.8 136.7,987.5 110,1020 C83.3,1052.5 18.3,1065.8 0,1075"/>
</g>
<g class="k" transform="translate(630,840) scale(0.12173)">
<path d="M405,785 L445,745 L497,772 L462,808 Z"/>
<path d="M462,808 C465.8,826.7 488.7,884.7 485,920 C481.3,955.3 457.5,996.7 440,1020 C422.5,1043.3 395.8,1055 380,1060 C364.2,1065 350.8,1051.7 345,1050"/>
<path d="M405,785 C406.2,804.2 417,867.5 412,900 C407,932.5 393.7,960.8 375,980 C356.3,999.2 312.5,1009.2 300,1015"/>
<path d="M255,1050 L290,1020 L345,1050 L315,1085 Z"/>
<path d="M315,1085 C320,1100.8 342.5,1150.8 345,1180 C347.5,1209.2 340.8,1236.7 330,1260 C319.2,1283.3 295,1307.5 280,1320 C265,1332.5 246.7,1332.5 240,1335"/>
<path d="M255,1050 C259.2,1066.7 277.5,1120 280,1150 C282.5,1180 279.2,1207.5 270,1230 C260.8,1252.5 239.2,1273.3 225,1285 C210.8,1296.7 191.7,1297.5 185,1300"/>
<path d="M185,1300 L160,1350 L205,1415 L220,1450 M185,1300 L240,1335 L228,1375"/>
<path d="M625,1235 C629.2,1212.5 634.2,1145.8 650,1100 C665.8,1054.2 695,1001.7 720,960 C745,918.3 770,885 800,850 C830,815 858.3,782.5 900,750 C941.7,717.5 1000,678.7 1050,655 C1100,631.3 1156.7,615.5 1200,608 C1243.3,600.5 1291.7,609.7 1310,610"/>
<path d="M790,880 C790.8,863.3 786.7,815 795,780 C803.3,745 819.2,700.3 840,670 C860.8,639.7 893.3,613.3 920,598 C946.7,582.7 974.2,572.7 1000,578 C1025.8,583.3 1062.5,621.3 1075,630"/>
<path d="M450,1205 C456.7,1190.8 471.7,1146.7 490,1120 C508.3,1093.3 535,1064.5 560,1045 C585,1025.5 615,1006.3 640,1003 C665,999.7 698.3,1021.3 710,1025"/>
<path d="M625,1235 C630.8,1238.3 644.2,1254.2 660,1255 C675.8,1255.8 696.7,1253.8 720,1240 C743.3,1226.2 786.7,1183.3 800,1172 L1265,770"/>
<path d="M830,1350 L1375,855 M965,1420 L1380,858 M1030,1455 L1490,905"/>
<path d="M1255,595 C1262.5,572.5 1280.8,495.8 1300,460 C1319.2,424.2 1346.7,398.3 1370,380 C1393.3,361.7 1421.7,354.7 1440,350 C1458.3,345.3 1473.3,351.7 1480,352 L2346,866"/>
<path d="M1290,800 C1285.8,795 1268.3,788.3 1265,770 C1261.7,751.7 1262.5,716.7 1270,690 C1277.5,663.3 1291.7,628.7 1310,610 C1328.3,591.3 1368.3,583.3 1380,578 L1836.6,830"/>
<path d="M1290,800 L1641.6,990"/>
<path d="M1480,345 L1565,265"/>
<path d="M320,1420 C325,1405 333.3,1360 350,1330 C366.7,1300 395,1262.5 420,1240 C445,1217.5 479.2,1201.7 500,1195 C520.8,1188.3 537.5,1199.2 545,1200 L1415,1719.6"/>
<path d="M1190,1290 L1410,1400"/>
<path d="M1270,1180 L1611,1022 M1225,1235 L1606.6,1075"/>
</g>
<g class="k" transform="translate(800,840) scale(0.12173)">
<ellipse class="k" cx="367" cy="233" rx="195" ry="150" transform="rotate(-12 367 233)"/>
<ellipse class="k" cx="365" cy="232" rx="123" ry="93" transform="rotate(-12 365 232)"/>
<path d="M560,190 L635,480 Q640,580 565,622 M180,270 L205,400 M80,350 L170,265 M485,375 L495,420 L380,520"/>
<path d="M470,598 C455.8,605 410,623 385,640 C360,657 334.7,683 320,700 C305.3,717 300.8,735 297,742"/>
<path d="M760,770 C743.3,779.2 685.8,800.8 660,825 C634.2,849.2 616.7,884.2 605,915 C593.3,945.8 592.5,994.2 590,1010"/>
<path d="M835,795 C814.2,805 741.7,827.5 710,855 C678.3,882.5 660.8,921.7 645,960 C629.2,998.3 620,1064.2 615,1085"/>
<ellipse class="w" cx="862" cy="1032" rx="105.6" ry="183" transform="rotate(30 862 1032)"/>
<ellipse class="k" cx="868" cy="1040" rx="63.5" ry="110" transform="rotate(30 868 1040)"/>
<path d="M918,962 C908,968.7 873.7,984 858,1002 C842.3,1020 827,1049 824,1070 C821,1091 837.3,1118.3 840,1128"/>
<path d="M620,1105 L890,1285 M650,1115 L800,1195 M895,1165 L895,1285"/>
<path d="M440,830 L450,905"/>
<path d="M225,725 C212.5,732.8 168.8,751.2 150,772 C131.2,792.8 117,826.7 112,850 C107,873.3 118.7,901.7 120,912"/>
<path d="M440,830 C425,833.7 373.3,837 350,852 C326.7,867 310.8,903.3 300,920 C289.2,936.7 287.5,946.7 285,952"/>
<path d="M0,1010 L90,915"/>
<ellipse class="k" cx="398" cy="1063" rx="195" ry="150" transform="rotate(-12 398 1063)"/>
<ellipse class="k" cx="393" cy="1058" rx="124" ry="92" transform="rotate(-12 393 1058)"/>
<path d="M215,1110 L285,1420 M590,1050 L668,1345"/>
<path d="M285,1420 C294.2,1430.3 314.2,1466.7 340,1482 C365.8,1497.3 403.3,1512 440,1512 C476.7,1512 526.7,1497.3 560,1482 C593.3,1466.7 622,1442.8 640,1420 C658,1397.2 663.3,1357.5 668,1345"/>
</g>
<g class="k" transform="translate(630,1010) scale(0.12173)">
<ellipse class="k" cx="320" cy="170" rx="202" ry="153" transform="rotate(-12 320 170)"/>
<ellipse class="k" cx="317" cy="168" rx="122" ry="93" transform="rotate(-12 317 168)"/>
<path d="M125,220 L205,510 M520,130 L592,440"/>
<path d="M205,510 C212.5,521.7 227.5,561.3 250,580 C272.5,598.7 306.7,618.3 340,622 C373.3,625.7 416.7,615.3 450,602 C483.3,588.7 517.5,563.2 540,542 C562.5,520.8 576.3,492 585,475 C593.7,458 590.8,445.8 592,440"/>
<path d="M440,622 L440,760 L470,748 M520,575 L520,765 M690,700 L715,757 L855,745 L855,682"/>
<path d="M470,765 C485,765.5 536.7,771.8 560,768 C583.3,764.2 593.3,754.7 610,742 C626.7,729.3 640.8,704.8 660,692 C679.2,679.2 705.8,666.2 725,665 C744.2,663.8 762.5,672.5 775,685 C787.5,697.5 795.8,730.8 800,740"/>
<path d="M565,275 L760,400 M585,510 L1050,782"/>
<path d="M588,497 C596.7,487.8 618.8,456.2 640,442 C661.2,427.8 693,418.5 715,412 C737,405.5 762.5,404.5 772,403"/>
<path d="M935,40 C919.2,47 867.2,60.3 840,82 C812.8,103.7 789.2,135.3 772,170 C754.8,204.7 741,256.3 737,290 C733,323.7 746.2,358.3 748,372"/>
<path d="M748,372 L1045,545"/>
<path d="M1230,205 C1210,219.2 1141.7,255.8 1110,290 C1078.3,324.2 1053.3,375 1040,410 C1026.7,445 1029.2,477 1030,500 C1030.8,523 1042.5,540 1045,548"/>
<path d="M1290,240 C1267.5,253.7 1189.7,288.7 1155,322 C1120.3,355.3 1095.3,403.7 1082,440 C1068.7,476.3 1072.8,517.2 1075,540 C1077.2,562.8 1091.7,570.8 1095,577"/>
<ellipse class="w" cx="1325" cy="482" rx="104.4" ry="181" transform="rotate(30 1325 482)"/>
<ellipse class="k" cx="1328" cy="485" rx="63.5" ry="110" transform="rotate(30 1328 485)"/>
<path d="M1380,398 C1369.7,404.3 1334.3,418.7 1318,436 C1301.7,453.3 1285.7,481.3 1282,502 C1278.3,522.7 1293.7,550.3 1296,560"/>
<path d="M1095,577 L1260,652 L1500,660"/>
<path d="M940,535 C943.3,549.2 950,592.5 960,620 C970,647.5 985,674.7 1000,700 C1015,725.3 1041.7,760 1050,772"/>
<path d="M1450,345 C1450.8,357.5 1445,377.5 1455,420 C1465,462.5 1498.3,546.7 1510,600 C1521.7,653.3 1521.7,693.3 1525,740 C1528.3,786.7 1529.2,856.7 1530,880"/>
<ellipse class="w" cx="640" cy="1395" rx="172" ry="128" transform="rotate(-8 640 1395)"/>
<path d="M520,1500 L535,1560 M800,1440 L800,1520"/>
<path d="M520,1500 C524.2,1511.7 531.7,1550.8 545,1570 C558.3,1589.2 577.5,1605.5 600,1615 C622.5,1624.5 653.3,1630.8 680,1627 C706.7,1623.2 740,1609.8 760,1592 C780,1574.2 793.3,1532 800,1520"/>
<path class="n" d="M463,1045 L545,1400 L600,1440 L680,1430 L715,1385 L633,1030 Z"/>
<ellipse class="w" cx="548" cy="1038" rx="86" ry="66" transform="rotate(-5 548 1038)"/>
<path d="M463,1045 L545,1400 M633,1030 L715,1385"/>
<path d="M478.5,1112 C483.5,1118.3 493.5,1140.2 508.5,1150 C523.5,1159.8 549,1171.5 568.5,1171 C588,1170.5 612.2,1159.3 625.5,1147 C638.8,1134.7 644.7,1105.3 648.5,1097"/>
<path d="M494,1179 C499,1185.3 509,1207.2 524,1217 C539,1226.8 564.5,1238.5 584,1238 C603.5,1237.5 627.7,1226.3 641,1214 C654.3,1201.7 660.2,1172.3 664,1164"/>
<path d="M509.5,1246 C514.5,1252.3 524.5,1274.2 539.5,1284 C554.5,1293.8 580,1305.5 599.5,1305 C619,1304.5 643.2,1293.3 656.5,1281 C669.8,1268.7 675.7,1239.3 679.5,1231"/>
<path d="M525,1313 C530,1319.3 540,1341.2 555,1351 C570,1360.8 595.5,1372.5 615,1372 C634.5,1371.5 658.7,1360.3 672,1348 C685.3,1335.7 691.2,1306.3 695,1298"/>
<path d="M540.5,1380 C545.5,1386.3 555.5,1408.2 570.5,1418 C585.5,1427.8 611,1439.5 630.5,1439 C650,1438.5 674.2,1427.3 687.5,1415 C700.8,1402.7 706.7,1373.3 710.5,1365"/>
<path d="M545,1400 C552.5,1406.3 572.5,1431.3 590,1438 C607.5,1444.7 631.7,1443.8 650,1440 C668.3,1436.2 689.2,1424.2 700,1415 C710.8,1405.8 712.5,1390 715,1385"/>
</g>
<g class="k" transform="translate(800,1010) scale(0.12173)">
<path d="M665,-32 C680.8,-39.5 724.2,-66.2 760,-77 C795.8,-87.8 843.3,-102 880,-97 C916.7,-92 953.3,-63.2 980,-47 C1006.7,-30.8 1024.2,-21.2 1040,0 C1055.8,21.2 1066.7,50 1075,80 C1083.3,110 1090,138.3 1090,180 C1090,221.7 1085,280 1075,330 C1065,380 1049.2,431.7 1030,480 C1010.8,528.3 990,570 960,620 C930,670 878.3,743.3 850,780 C821.7,816.7 816.7,817.5 790,840 C763.3,862.5 728.3,892.5 690,915 C651.7,937.5 601.7,960.8 560,975 C518.3,989.2 476.7,998.3 440,1000 C403.3,1001.7 369.2,995 340,985 C310.8,975 285.8,962.5 265,940 C244.2,917.5 226.2,886.7 215,850 C203.8,813.3 198.8,765 198,720 C197.2,675 201.3,630 210,580 C218.7,530 232,473 250,420 C268,367 306.7,288.3 318,262"/>
<path d="M1095,205 C1105.8,203.3 1135.8,193.3 1160,195 C1184.2,196.7 1216.7,204.2 1240,215 C1263.3,225.8 1285.8,244.2 1300,260 C1314.2,275.8 1321.7,291.7 1325,310 C1328.3,328.3 1327.5,350 1320,370 C1312.5,390 1298.3,413 1280,430 C1261.7,447 1228.7,460.3 1210,472 C1191.3,483.7 1175.5,490.3 1168,500 C1160.5,509.7 1165.5,525 1165,530"/>
<path d="M1085,265 C1095.8,263.3 1128.3,252.5 1150,255 C1171.7,257.5 1200,267.5 1215,280 C1230,292.5 1239.2,311.7 1240,330 C1240.8,348.3 1233.3,373.3 1220,390 C1206.7,406.7 1180.8,421.3 1160,430 C1139.2,438.7 1113.3,441.7 1095,442 C1076.7,442.3 1057.5,433.7 1050,432"/>
<path d="M1325,310 L1395,600 M1165,520 L1245,800 L1245,850"/>
<path d="M1395,600 C1394.2,610.8 1399.2,642.5 1390,665 C1380.8,687.5 1365,713.8 1340,735 C1315,756.2 1256.7,782.5 1240,792"/>
<path d="M1030,480 C1037.5,490 1065.8,518.3 1075,540 C1084.2,561.7 1089.2,585 1085,610 C1080.8,635 1070.8,663.3 1050,690 C1029.2,716.7 993.3,750 960,770 C926.7,790 873.3,802.5 850,810 C826.7,817.5 825,814.2 820,815"/>
<path d="M1165,520 C1167.5,535 1182.5,580 1180,610 C1177.5,640 1170,668.3 1150,700 C1130,731.7 1096.7,770 1060,800 C1023.3,830 976.7,859.2 930,880 C883.3,900.8 821.7,915.8 780,925 C738.3,934.2 696.7,933.3 680,935"/>
<path d="M1245,850 C1240.8,866.7 1237.5,915 1220,950 C1202.5,985 1173.3,1028.3 1140,1060 C1106.7,1091.7 1063.3,1118.3 1020,1140 C976.7,1161.7 926.7,1180 880,1190 C833.3,1200 778.3,1200.8 740,1200 C701.7,1199.2 671.7,1191.7 650,1185 C628.3,1178.3 616.7,1164.2 610,1160"/>
<path d="M600,975 L610,1160"/>
<path d="M360,1010 L365,1100 L420,1142 L515,1040 L538,1155 L455,1228 L420,1142 M455,1225 V1350 M455,1310 L610,1165"/>
<path d="M390,120 L740,310 M600,80 L720,290 M525,155 L632,560 L635,610 L535,715 L515,525 L280,245 M530,610 L840,785 M660,700 L700,835 L840,790"/>
<path d="M740,297 C750,304.2 784.2,319.5 800,340 C815.8,360.5 832.5,386.7 835,420 C837.5,453.3 825.8,503.3 815,540 C804.2,576.7 777.5,623.3 770,640"/>
<path d="M535,715 C544.2,716.2 570.8,723.7 590,722 C609.2,720.3 640,707.8 650,705"/>
<path d="M640,570 C660,583.3 725.8,614.2 760,650 C794.2,685.8 830.8,762.5 845,785"/>
<path d="M375,345 C382.5,337.5 404.2,308.3 420,300 C435.8,291.7 457.5,288.3 470,295 C482.5,301.7 492.5,322.5 495,340 C497.5,357.5 491.7,383.3 485,400 C478.3,416.7 460,433.3 455,440"/>
</g>
<g class="k" transform="translate(780,970) scale(0.07304)">
<path d="M300,890 V310 L415,245 L690,390 M300,660 L205,715 L285,890 M130,975 L300,890 L385,915 V1090 L340,1108 M385,1090 L632,918 M595,510 L552,955 M595,510 L745,612 M655,568 L632,915 L738,956 L920,745 M790,690 V868"/>
</g>
<g class="k" transform="translate(690,1130) scale(0.12173)">
<path d="M565,-426 V250 M1262,24 L1275,250"/>
<path d="M565,250 C569.2,265 570.8,311.7 590,340 C609.2,368.3 645,400 680,420 C715,440 758.3,451.7 800,460 C841.7,468.3 886.7,471.7 930,470 C973.3,468.3 1018.3,461.7 1060,450 C1101.7,438.3 1148.3,420 1180,400 C1211.7,380 1234.2,355 1250,330 C1265.8,305 1270.8,263.3 1275,250"/>
<path d="M560,115 C550,127.5 512.5,164.2 500,190 C487.5,215.8 483.3,243.3 485,270 C486.7,296.7 494.2,323.3 510,350 C525.8,376.7 548.3,405.8 580,430 C611.7,454.2 655,478.3 700,495 C745,511.7 800,524.2 850,530 C900,535.8 950,535.8 1000,530 C1050,524.2 1105,513.3 1150,495 C1195,476.7 1238.3,447.5 1270,420 C1301.7,392.5 1325.5,358.3 1340,330 C1354.5,301.7 1357.8,275 1357,250 C1356.2,225 1347,201.7 1335,180 C1323,158.3 1293.3,130 1285,120"/>
<path d="M487,250 V1065 M1357,250 V770"/>
<path d="M487,780 C492.5,793.3 501.2,833.3 520,860 C538.8,886.7 566.7,916.7 600,940 C633.3,963.3 676.7,985 720,1000 C763.3,1015 813.3,1025 860,1030 C906.7,1035 953.3,1035.8 1000,1030 C1046.7,1024.2 1096.7,1011.7 1140,995 C1183.3,978.3 1227.5,954.2 1260,930 C1292.5,905.8 1318.8,876.7 1335,850 C1351.2,823.3 1353.3,783.3 1357,770"/>
<path d="M365,600 L480,508 M365,600 L480,625 M365,600 V1055 L490,1070 L550,1020 V905"/>
</g>

<!-- 45_dowels.svgfrag -->
<g class="k" transform="translate(580,740) scale(0.18259)">
<path d="M150,650 L195,820 M328,625 L370,785"/>
<path d="M195,820 C200.8,828 214.2,858.5 230,868 C245.8,877.5 270.8,881.3 290,877 C309.2,872.7 331.7,857.3 345,842 C358.3,826.7 365.8,794.5 370,785"/>
<ellipse class="w" cx="238" cy="638" rx="91" ry="69" transform="rotate(-10 238 638)"/>
<ellipse class="k" cx="238" cy="637" rx="54" ry="40" transform="rotate(-10 238 637)"/>
<path d="M312,915 L485,1590"/>
<path d="M1240,250 L1290,430 M1415,225 L1460,395"/>
<path d="M1290,430 C1295.3,436.7 1307,461.8 1322,470 C1337,478.2 1361.2,483 1380,479 C1398.8,475 1421.7,460 1435,446 C1448.3,432 1455.8,403.5 1460,395"/>
<ellipse class="w" cx="1326" cy="238" rx="90" ry="68" transform="rotate(-10 1326 238)"/>
<ellipse class="k" cx="1326" cy="238" rx="52" ry="39" transform="rotate(-10 1326 238)"/>
<path d="M1400,522 L1448,700"/>
</g>

<!-- 50_pipe9.svgfrag -->
<g class="k" transform="translate(1190,1050) scale(0.21302)">
<ellipse class="k" cx="232" cy="228" rx="182" ry="136" transform="rotate(-12 232 228)"/>
<ellipse class="k" cx="232" cy="228" rx="135" ry="97" transform="rotate(-12 232 228)"/>
<ellipse class="k" cx="790" cy="565" rx="181" ry="137" transform="rotate(-12 790 565)"/>
<ellipse class="k" cx="786" cy="563" rx="131" ry="97" transform="rotate(-12 786 563)"/>
<path d="M312,1085 C315,1099.2 321.2,1137.5 330,1170 C338.8,1202.5 350,1241.7 365,1280 C380,1318.3 397.5,1360 420,1400 C442.5,1440 470,1484.3 500,1520 C530,1555.7 563.3,1583.3 600,1614 C636.7,1644.7 680,1679 720,1704 C760,1729 803.3,1748.2 840,1764 C876.7,1779.8 910,1794 940,1799 C970,1804 995,1801.5 1020,1794 C1045,1786.5 1068.3,1772.3 1090,1754 C1111.7,1735.7 1135,1709 1150,1684 C1165,1659 1174,1621.3 1180,1604 C1186,1586.7 1185,1584 1186,1580"/>
<path d="M650,1225 C658.3,1237.5 681.7,1275.8 700,1300 C718.3,1324.2 738.3,1349.2 760,1370 C781.7,1390.8 811.7,1413.3 830,1425 C848.3,1436.7 860.8,1427.5 870,1440 C879.2,1452.5 885,1481.7 885,1500 C885,1518.3 876.7,1540.8 870,1550 C863.3,1559.2 849.2,1554.2 845,1555"/>
<path d="M262,920 C259.2,930 244.5,960 245,980 C245.5,1000 250.8,1022.5 265,1040 C279.2,1057.5 304.2,1075.8 330,1085 C355.8,1094.2 390,1098.3 420,1095 C450,1091.7 484.2,1080.8 510,1065 C535.8,1049.2 560.3,1021.7 575,1000 C589.7,978.3 597.2,955 598,935 C598.8,915 588.8,894.2 580,880 C571.2,865.8 550.8,855 545,850"/>
<path d="M252,830 L275,972 M527,790 L548,935"/>
<path d="M275,972 C279.2,980 282.5,1007 300,1020 C317.5,1033 351.7,1048.3 380,1050 C408.3,1051.7 445,1041.7 470,1030 C495,1018.3 517,995.8 530,980 C543,964.2 545,942.5 548,935"/>
<ellipse class="w" cx="388" cy="812" rx="140" ry="105" transform="rotate(-12 388 812)"/>
<ellipse class="k" cx="385" cy="810" rx="95" ry="70" transform="rotate(-12 385 810)"/>
<path d="M540,820 C547.5,812.5 561.7,785.8 585,775 C608.3,764.2 650.8,755 680,755 C709.2,755 739.2,762.5 760,775 C780.8,787.5 798.3,810.3 805,830 C811.7,849.7 800.8,882.5 800,893 L557,1198 L475,1165 L548,1030"/>
<path d="M808,835 L835,960 Q838,980 825,992 L585,1290 L570,1295 L557,1198"/>
<ellipse class="k" cx="662" cy="865" rx="73" ry="55" transform="rotate(-8 662 865)"/>
<path d="M598,890 C602.5,885.3 613.8,868.7 625,862 C636.2,855.3 651.7,851.5 665,850 C678.3,848.5 693.8,850 705,853 C716.2,856 727.5,865.5 732,868"/>
<path d="M828,1270 C824.7,1280 807.7,1310 808,1330 C808.3,1350 815.5,1373.3 830,1390 C844.5,1406.7 869.2,1421.7 895,1430 C920.8,1438.3 955,1443.3 985,1440 C1015,1436.7 1050,1425 1075,1410 C1100,1395 1121.7,1370 1135,1350 C1148.3,1330 1154.2,1309.2 1155,1290 C1155.8,1270.8 1148.3,1250 1140,1235 C1131.7,1220 1110.8,1205.8 1105,1200"/>
<path d="M815,1180 L840,1320 M1085,1140 L1110,1280"/>
<path d="M840,1320 C845,1327.5 851.7,1353 870,1365 C888.3,1377 921.7,1391.2 950,1392 C978.3,1392.8 1015.8,1382 1040,1370 C1064.2,1358 1083.3,1335 1095,1320 C1106.7,1305 1107.5,1286.7 1110,1280"/>
<ellipse class="w" cx="948" cy="1160" rx="138" ry="104" transform="rotate(-12 948 1160)"/>
<ellipse class="k" cx="944" cy="1156" rx="91" ry="68" transform="rotate(-12 944 1156)"/>
<path d="M1100,1175 C1108.3,1166.7 1126.7,1137.5 1150,1125 C1173.3,1112.5 1211.7,1100.8 1240,1100 C1268.3,1099.2 1299.2,1107.5 1320,1120 C1340.8,1132.5 1357.8,1154.5 1365,1175 C1372.2,1195.5 1363.3,1231.7 1363,1243 L1115,1546 L1038,1524 L1103,1390"/>
<path d="M1368,1180 L1398,1300 Q1400,1325 1388,1342 L1148,1639 L1132,1636 L1115,1546"/>
<ellipse class="k" cx="1222" cy="1208" rx="73" ry="56" transform="rotate(-8 1222 1208)"/>
<path d="M1158,1235 C1162.5,1230.3 1173.8,1213.8 1185,1207 C1196.2,1200.2 1211.7,1195.7 1225,1194 C1238.3,1192.3 1253.3,1194 1265,1197 C1276.7,1200 1290,1209.5 1295,1212"/>
<path d="M165,0 L232,228 M275,400 L382,805 M833,730 L942,1152 M740,1165 L795,1370"/>
<path class="k" d="M810,1435 L905,1784" stroke-dasharray="6.5 4.5"/>
<path d="M915,1834 L958,1994 M1297,1519 L1335,1669"/>
<ellipse class="w" cx="1045" cy="2319.4" rx="90" ry="68" transform="rotate(-10 1045 2319.4)"/>
<path d="M956,2329.4 L978,2409.4 M1135,2317.4 L1148,2374.4"/>
<path d="M956,2329.4 C958.8,2337.4 960.6,2365.2 973,2377.4 C985.3,2389.6 1010.1,2400.4 1030,2402.4 C1049.8,2404.4 1075.1,2397.9 1092,2389.4 C1108.8,2380.9 1123.8,2363.4 1131,2351.4 C1138.1,2339.4 1134.3,2323.1 1135,2317.4"/>
<path d="M978,2409.4 C983.3,2415.2 996.3,2437.2 1010,2444.4 C1023.6,2451.6 1042.5,2454.9 1060,2452.4 C1077.5,2449.9 1100.3,2442.4 1115,2429.4 C1129.6,2416.4 1142.5,2383.6 1148,2374.4"/>
<path class="n" d="M932,2087.4 L990,2319.4 L1040,2347.4 L1080,2301.4 L1025,2071.4 Z"/>
<ellipse class="w" cx="978" cy="2079.4" rx="48" ry="37" transform="rotate(-10 978 2079.4)"/>
<path d="M932,2087.4 L990,2319.4 M1025,2071.4 L1080,2301.4"/>
<path d="M940.2,2120.4 C943.2,2124.1 949.9,2137.6 958.2,2142.4 C966.6,2147.2 979.9,2150.4 990.2,2149.4 C1000.6,2148.4 1013.1,2143.9 1020.2,2136.4 C1027.4,2128.9 1031.1,2109.7 1033.2,2104.4"/>
<path d="M948.5,2153.4 C951.5,2157.1 958.2,2170.6 966.5,2175.4 C974.8,2180.2 988.2,2183.4 998.5,2182.4 C1008.8,2181.4 1021.3,2176.9 1028.5,2169.4 C1035.7,2161.9 1039.3,2142.7 1041.5,2137.4"/>
<path d="M956.7,2186.4 C959.7,2190.1 966.4,2203.6 974.7,2208.4 C983.1,2213.2 996.4,2216.4 1006.7,2215.4 C1017.1,2214.4 1029.6,2209.9 1036.7,2202.4 C1043.9,2194.9 1047.6,2175.7 1049.7,2170.4"/>
<path d="M965,2219.4 C968,2223.1 974.6,2236.6 983,2241.4 C991.3,2246.2 1004.6,2249.4 1015,2248.4 C1025.3,2247.4 1037.8,2242.9 1045,2235.4 C1052.1,2227.9 1055.8,2208.7 1058,2203.4"/>
<path d="M973.2,2252.4 C976.2,2256.1 982.9,2269.6 991.2,2274.4 C999.6,2279.2 1012.9,2282.4 1023.2,2281.4 C1033.6,2280.4 1046.1,2275.9 1053.2,2268.4 C1060.4,2260.9 1064.1,2241.7 1066.2,2236.4"/>
<path d="M981.5,2285.4 C984.5,2289.1 991.1,2302.6 999.5,2307.4 C1007.8,2312.2 1021.1,2315.4 1031.5,2314.4 C1041.8,2313.4 1054.3,2308.9 1061.5,2301.4 C1068.6,2293.9 1072.3,2274.7 1074.5,2269.4"/>
<path d="M990,2319.4 C993,2323.1 999.6,2336.7 1008,2341.4 C1016.3,2346.1 1029.6,2349.4 1040,2347.4 C1050.3,2345.4 1063.3,2337.1 1070,2329.4 C1076.6,2321.7 1078.3,2306.1 1080,2301.4"/>
<ellipse class="w" cx="1427" cy="1989.4" rx="90" ry="68" transform="rotate(-10 1427 1989.4)"/>
<path d="M1338,1999.4 L1360,2079.4 M1517,1987.4 L1530,2044.4"/>
<path d="M1338,1999.4 C1340.8,2007.4 1342.6,2035.2 1355,2047.4 C1367.3,2059.6 1392.1,2070.4 1412,2072.4 C1431.8,2074.4 1457.1,2067.9 1474,2059.4 C1490.8,2050.9 1505.8,2033.4 1513,2021.4 C1520.1,2009.4 1516.3,1993.1 1517,1987.4"/>
<path d="M1360,2079.4 C1365.3,2085.2 1378.3,2107.2 1392,2114.4 C1405.6,2121.6 1424.5,2124.9 1442,2122.4 C1459.5,2119.9 1482.3,2112.4 1497,2099.4 C1511.6,2086.4 1524.5,2053.6 1530,2044.4"/>
<path class="n" d="M1314,1757.4 L1372,1989.4 L1422,2017.4 L1462,1971.4 L1407,1741.4 Z"/>
<ellipse class="w" cx="1360" cy="1749.4" rx="48" ry="37" transform="rotate(-10 1360 1749.4)"/>
<path d="M1314,1757.4 L1372,1989.4 M1407,1741.4 L1462,1971.4"/>
<path d="M1322.2,1790.4 C1325.2,1794.1 1331.9,1807.6 1340.2,1812.4 C1348.6,1817.2 1361.9,1820.4 1372.2,1819.4 C1382.6,1818.4 1395.1,1813.9 1402.2,1806.4 C1409.4,1798.9 1413.1,1779.7 1415.2,1774.4"/>
<path d="M1330.5,1823.4 C1333.5,1827.1 1340.2,1840.6 1348.5,1845.4 C1356.8,1850.2 1370.2,1853.4 1380.5,1852.4 C1390.8,1851.4 1403.3,1846.9 1410.5,1839.4 C1417.7,1831.9 1421.3,1812.7 1423.5,1807.4"/>
<path d="M1338.7,1856.4 C1341.7,1860.1 1348.4,1873.6 1356.7,1878.4 C1365.1,1883.2 1378.4,1886.4 1388.7,1885.4 C1399.1,1884.4 1411.6,1879.9 1418.7,1872.4 C1425.9,1864.9 1429.6,1845.7 1431.7,1840.4"/>
<path d="M1347,1889.4 C1350,1893.1 1356.6,1906.6 1365,1911.4 C1373.3,1916.2 1386.6,1919.4 1397,1918.4 C1407.3,1917.4 1419.8,1912.9 1427,1905.4 C1434.1,1897.9 1437.8,1878.7 1440,1873.4"/>
<path d="M1355.2,1922.4 C1358.2,1926.1 1364.9,1939.6 1373.2,1944.4 C1381.6,1949.2 1394.9,1952.4 1405.2,1951.4 C1415.6,1950.4 1428.1,1945.9 1435.2,1938.4 C1442.4,1930.9 1446.1,1911.7 1448.2,1906.4"/>
<path d="M1363.5,1955.4 C1366.5,1959.1 1373.1,1972.6 1381.5,1977.4 C1389.8,1982.2 1403.1,1985.4 1413.5,1984.4 C1423.8,1983.4 1436.3,1978.9 1443.5,1971.4 C1450.6,1963.9 1454.3,1944.7 1456.5,1939.4"/>
<path d="M1372,1989.4 C1375,1993.1 1381.6,2006.7 1390,2011.4 C1398.3,2016.1 1411.6,2019.4 1422,2017.4 C1432.3,2015.4 1445.3,2007.1 1452,1999.4 C1458.6,1991.7 1460.3,1976.1 1462,1971.4"/>
</g>

<!-- 60_strainer.svgfrag -->
<g class="k" transform="translate(590,1540) scale(0.21302)">
<path d="M848,200 L850,178 Q852,168 860,162 L1045,15 Q1062,3 1082,12 L1258,106 Q1274,116 1272,137 L1146,238"/>
<path d="M870,215 L872,193 Q873,185 880,178 L1052,38 Q1065,30 1078,37 L1238,121 Q1250,130 1240,142 L1132,228 L1125,255"/>
<path d="M848,200 C851.7,210 864.7,235 870,260 C875.3,285 880,318.3 880,350 C880,381.7 876.7,418.3 870,450 C863.3,481.7 853.3,511.7 840,540 C826.7,568.3 810,593.3 790,620 C770,646.7 745,677.5 720,700 C695,722.5 666.7,740 640,755 C613.3,770 583.3,782.5 560,790 C536.7,797.5 518.3,800.8 500,800 C481.7,799.2 465,794.2 450,785 C435,775.8 420,760.8 410,745 C400,729.2 394.2,705.8 390,690 C385.8,674.2 385.8,656.7 385,650"/>
<path d="M870,215 C873.7,225.8 887,255.8 892,280 C897,304.2 900.3,331.7 900,360 C899.7,388.3 896.7,420 890,450 C883.3,480 873.3,510 860,540 C846.7,570 829.2,602.5 810,630 C790.8,657.5 770,682.5 745,705 C720,727.5 688.3,749.2 660,765 C631.7,780.8 600.8,792.8 575,800 C549.2,807.2 516.7,806.7 505,808"/>
<path d="M1125,255 C1128.3,267.5 1140.8,305.8 1145,330 C1149.2,354.2 1150.8,376.7 1150,400 C1149.2,423.3 1144.2,453.3 1140,470 C1135.8,486.7 1127.5,495 1125,500"/>
<path d="M1148,240 C1151,253.3 1162.3,293.3 1166,320 C1169.7,346.7 1171.5,373.3 1170,400 C1168.5,426.7 1160.8,462.5 1157,480 C1153.2,497.5 1148.7,500.8 1147,505"/>
<path d="M1070,50 C1073.3,63.3 1085.8,101.7 1090,130 C1094.2,158.3 1095.8,188.3 1095,220 C1094.2,251.7 1090,288.3 1085,320 C1080,351.7 1071.7,385 1065,410 C1058.3,435 1048.3,460 1045,470"/>
<path d="M1272,150 C1272,175 1274.8,255 1272,300 C1269.2,345 1262.8,380 1255,420 C1247.2,460 1235,504.2 1225,540 C1215,575.8 1200,619.2 1195,635"/>
<path d="M385,650 Q378,630 352,628 Q335,630 325,640 L120,810 Q105,835 120,862 L305,962"/>
<path d="M388,668 Q372,652 350,652 L142,825 Q130,840 142,856 L300,940 Q312,945 322,937 L402,867 Q425,848 448,868"/>
<path d="M305,962 C309.2,960 311.7,965 330,950 C348.3,935 398,887 415,872 C432,857 426.5,860.7 432,860 C437.5,859.3 443.3,861.3 448,868 C452.7,874.7 454.7,888 460,900 C465.3,912 468.3,925 480,940 C491.7,955 510,976.7 530,990 C550,1003.3 573.3,1014.2 600,1020 C626.7,1025.8 660,1028.3 690,1025 C720,1021.7 751.7,1011.7 780,1000 C808.3,988.3 846.7,962.5 860,955"/>
<path d="M448,868 C451.7,874.2 461.3,891.3 470,905 C478.7,918.7 486.7,935.8 500,950 C513.3,964.2 530,979.7 550,990 C570,1000.3 595,1008.7 620,1012 C645,1015.3 673.3,1014.5 700,1010 C726.7,1005.5 758.3,995.8 780,985 C801.7,974.2 821.7,951.7 830,945"/>
<path d="M640,1005 L770,910"/>
<path d="M118,860 C120.8,868.3 124.7,893 135,910 C145.3,927 145,932.3 180,962 C215,991.7 317.5,1067 345,1088"/>
<path d="M320,965 C323.3,974.2 330,1000.8 340,1020 C350,1039.2 363.3,1061.7 380,1080 C396.7,1098.3 416.7,1116.7 440,1130 C463.3,1143.3 491.7,1154.2 520,1160 C548.3,1165.8 580,1167.5 610,1165 C640,1162.5 670,1155 700,1145 C730,1135 760,1121.7 790,1105 C820,1088.3 850,1066.7 880,1045 C910,1023.3 955,986.7 970,975"/>
<path d="M757,760 L760,835 M1237,745 L1235,825"/>
<path d="M760,835 C766.7,845 780,877.5 800,895 C820,912.5 846.7,929.2 880,940 C913.3,950.8 960,960 1000,960 C1040,960 1086.7,950.8 1120,940 C1153.3,929.2 1180.8,914.2 1200,895 C1219.2,875.8 1229.2,836.7 1235,825"/>
<ellipse class="w" cx="996" cy="765" rx="240" ry="122" transform="rotate(-2 996 765)"/>
<path class="n" d="M815,590 L818,690 L845,760 L1150,760 L1172,700 L1178,590 Z"/>
<path d="M815,590 L818,690 L845,760 M1178,590 L1172,700 L1150,760"/>
<path d="M845,745 C852.5,751.7 870.8,775 890,785 C909.2,795 935,801.7 960,805 C985,808.3 1015,808.3 1040,805 C1065,801.7 1091.7,793.3 1110,785 C1128.3,776.7 1143.3,760 1150,755"/>
<path d="M870,790 C880,794.2 908.3,809.2 930,815 C951.7,820.8 976.7,825 1000,825 C1023.3,825 1049.2,820.8 1070,815 C1090.8,809.2 1115.8,794.2 1125,790"/>
<path d="M830,700 C836.7,708.3 850,737.5 870,750 C890,762.5 921.7,770.8 950,775 C978.3,779.2 1011.7,779.2 1040,775 C1068.3,770.8 1098.7,760 1120,750 C1141.3,740 1160,720.8 1168,715"/>
<path d="M818,660 C823.3,667.5 831.3,692.5 850,705 C868.7,717.5 901.7,729.2 930,735 C958.3,740.8 990,742.5 1020,740 C1050,737.5 1085.8,730 1110,720 C1134.2,710 1155.8,686.7 1165,680"/>
<path d="M815,600 C817.5,608.3 815.8,635 830,650 C844.2,665 871.7,681.7 900,690 C928.3,698.3 966.7,700.8 1000,700 C1033.3,699.2 1073.3,693.3 1100,685 C1126.7,676.7 1147,664.2 1160,650 C1173,635.8 1175,608.3 1178,600"/>
<ellipse class="w" cx="996" cy="588" rx="181" ry="108" transform="rotate(-2 996 588)"/>
<ellipse class="k" cx="997" cy="583" rx="162" ry="92" transform="rotate(-2 997 583)"/>
<ellipse class="k" cx="996" cy="580" rx="124" ry="75" transform="rotate(-2 996 580)"/>
<path d="M762,1400 L765,1455 M1232,1400 L1230,1450"/>
<path d="M765,1455 C770.8,1463.3 780.8,1490 800,1505 C819.2,1520 846.7,1535 880,1545 C913.3,1555 960,1565 1000,1565 C1040,1565 1086.7,1555.8 1120,1545 C1153.3,1534.2 1181.7,1515.8 1200,1500 C1218.3,1484.2 1225,1458.3 1230,1450"/>
<ellipse class="w" cx="997" cy="1392" rx="236" ry="123" transform="rotate(-2 997 1392)"/>
<path class="n" d="M850,1210 L852,1390 L1140,1390 L1140,1205 Z"/>
<path d="M850,1210 L852,1390 M1140,1205 L1140,1390"/>
<path d="M852,1390 C858.3,1396.7 872,1419.2 890,1430 C908,1440.8 935,1450.8 960,1455 C985,1459.2 1015,1460 1040,1455 C1065,1450 1093.3,1435.8 1110,1425 C1126.7,1414.2 1135,1395.8 1140,1390"/>
<ellipse class="w" cx="995" cy="1207" rx="145" ry="82" transform="rotate(-2 995 1207)"/>
<ellipse class="k" cx="996" cy="1205" rx="116" ry="65" transform="rotate(-2 996 1205)"/>
<path d="M995,0 L995,558 M995,990 L995,1210"/>
<path d="M345,1088 L455,1335"/>
<path d="M455,1335 C451.2,1340 438.2,1352.5 432,1365 C425.8,1377.5 418.3,1395.8 418,1410 C417.7,1424.2 421.3,1431.7 430,1450 C438.7,1468.3 460,1495 470,1520 C480,1545 486.3,1580 490,1600 C493.7,1620 491.7,1633.3 492,1640"/>
<path d="M470,1338 L750,1500 M440,1455 L790,1647 M615,1170 L760,1375 M750,1140 L840,1275"/>
<path d="M820,1537.1 C814.2,1541.3 793.3,1551.3 785,1562.1 C776.7,1572.9 770,1589.6 770,1602.1 C770,1614.6 778.3,1630.1 785,1637.1 C791.7,1644.1 805.8,1642.9 810,1644.1"/>
<path d="M820,1537.1 C820.3,1547.9 823.3,1584.6 822,1602.1 C820.7,1619.6 815.7,1630.4 812,1642.1 C808.3,1653.8 802,1667.1 800,1672.1 L560,2252.1"/>
<path d="M575,2217.1 C572.5,2222.9 565.8,2239.6 560,2252.1 C554.2,2264.6 550,2278.8 540,2292.1 C530,2305.4 520,2315.4 500,2332.1 C480,2348.8 449.2,2369.1 420,2392.1 C390.8,2415.1 340.8,2457.1 325,2470.1"/>
<path d="M1160,1542.1 C1153.3,1573.8 1141.7,1652.1 1120,1732.1 C1098.3,1812.1 1047,1960.4 1030,2022.1 C1013,2083.8 1018.8,2075.4 1018,2102.1 C1017.2,2128.8 1019.7,2158.8 1025,2182.1 C1030.3,2205.4 1041.2,2228.8 1050,2242.1 C1058.8,2255.4 1073.3,2258.8 1078,2262.1"/>
<path d="M492,1622.1 C490,1652.1 484.5,1722.1 480,1802.1 C475.5,1882.1 469.2,2035.4 465,2102.1 C460.8,2168.8 460.8,2177.9 455,2202.1 C449.2,2226.3 434.2,2239.6 430,2247.1"/>
<path d="M478,1502.1 C480,1510.4 487.7,1532.1 490,1552.1 C492.3,1572.1 491.7,1610.4 492,1622.1"/>
<path d="M430,2247.1 C436.7,2242.1 455,2223.3 470,2217.1 C485,2210.9 503.7,2210.9 520,2210.1 C536.3,2209.3 560,2211.8 568,2212.1"/>
<path d="M680,2222.1 C690,2224.6 718.3,2235.4 740,2237.1 C761.7,2238.8 786.7,2237.1 810,2232.1 C833.3,2227.1 851.7,2217.4 880,2207.1 C908.3,2196.8 963.3,2176.3 980,2170.1"/>
<path d="M1031.6,2175.9 L1108.3,2198.9 L1178.9,2227.5 L1242.1,2261.2 L1296.9,2299.4 L1342.1,2341.5 L1377.1,2386.5 L1401.2,2433.9 L1413.9,2482.6 L1415.1,2531.8 L1404.6,2580.7 L1382.8,2628.4 L1349.9,2674 L1306.6,2716.7 L1253.7,2755.7 L1192.1,2790.4 L1122.8,2820 L1047.2,2844.2 L966.6,2862.4 L882.5,2874.3 L796.3,2879.7 L709.6,2878.6 L623.9,2870.9 L540.8,2856.7 L461.8,2836.4 L388.3,2810.3 L321.5,2778.8 L262.8,2742.6 L213.1,2702.2 L173.4,2658.4 L144.3,2612 L126.4,2563.8 L120,2514.7 L125.2,2465.5 L141.9,2417.2 L169.9,2370.5 L208.5,2326.4 L257.2,2285.7 L315,2248.9 L381,2217 L453.8,2190.2"/>
<path d="M1074.7,2235 L1134.8,2258.6 L1188.8,2286.3 L1235.9,2317.5 L1275.3,2351.8 L1306.4,2388.6 L1328.5,2427.2 L1341.4,2467.1 L1344.9,2507.6 L1338.9,2548 L1323.4,2587.6 L1298.8,2625.8 L1265.4,2662 L1223.9,2695.5 L1174.8,2725.8 L1119,2752.4 L1057.5,2774.9 L991.2,2792.9 L921.2,2806 L848.8,2814.1 L775,2817.1 L701.2,2814.8 L628.5,2807.4 L558.1,2794.9 L491.2,2777.6 L429,2755.7 L372.4,2729.6 L322.4,2699.8 L279.7,2666.7 L245.2,2630.8 L219.4,2592.9 L202.7,2553.4 L195.4,2513.1 L197.5,2472.6 L209.2,2432.6 L230.1,2393.7 L260,2356.6 L298.3,2322 L344.4,2290.3 L397.5,2262.1 L456.8,2237.9"/>
<path d="M1415.1,2586.4 L1410.7,2614.2 L1402.5,2641.7 L1390.7,2668.8 L1375.4,2695.4 L1356.5,2721.2 L1334.2,2746.1 L1308.7,2769.9 L1280,2792.6 L1248.4,2814.1 L1214.1,2834 L1177.1,2852.5 L1137.8,2869.3 L1096.4,2884.3 L1053.1,2897.6 L1008.1,2908.9 L961.8,2918.3 L914.3,2925.6 L866,2930.9 L817.2,2934 L768,2935.1 L718.8,2934 L670,2930.9 L621.7,2925.6 L574.2,2918.3 L527.9,2908.9 L482.9,2897.6 L439.6,2884.3 L398.2,2869.3 L358.9,2852.5 L321.9,2834 L287.6,2814.1 L256,2792.6 L227.3,2769.9 L201.8,2746.1 L179.5,2721.2 L160.6,2695.4 L145.3,2668.8 L133.5,2641.7 L125.3,2614.2 L120.9,2586.4"/>
<path d="M1413.1,2633.4 L1408.7,2661.2 L1400.6,2688.7 L1388.8,2715.8 L1373.5,2742.4 L1354.7,2768.2 L1332.5,2793.1 L1307,2816.9 L1278.4,2839.6 L1246.9,2861.1 L1212.7,2881 L1175.9,2899.5 L1136.7,2916.3 L1095.4,2931.3 L1052.2,2944.6 L1007.4,2955.9 L961.2,2965.3 L913.9,2972.6 L865.7,2977.9 L817,2981 L768,2982.1 L719,2981 L670.3,2977.9 L622.1,2972.6 L574.8,2965.3 L528.6,2955.9 L483.8,2944.6 L440.6,2931.3 L399.3,2916.3 L360.1,2899.5 L323.3,2881 L289.1,2861.1 L257.6,2839.6 L229,2816.9 L203.5,2793.1 L181.3,2768.2 L162.5,2742.4 L147.2,2715.8 L135.4,2688.7 L127.3,2661.2 L122.9,2633.4"/>
<path d="M120,2502.1 L122,2632.1 M1415,2502.1 L1412,2632.1"/>
<path d="M880,2972.1 C883.3,2975.4 886.7,2987.1 900,2992.1 C913.3,2997.1 921.7,2997.9 960,3002.1 C998.3,3006.3 1093.3,3017.9 1130,3017.1 C1166.7,3016.3 1153.3,3012.9 1180,2997.1 C1206.7,2981.3 1263.3,2946.3 1290,2922.1 C1316.7,2897.9 1328.7,2872.1 1340,2852.1 C1351.3,2832.1 1354.7,2817.1 1358,2802.1 C1361.3,2787.1 1359.7,2768.8 1360,2762.1"/>
<path d="M1125,2937.1 L1125,2992.1"/>
</g>

<!-- 70_pipe12.svgfrag -->
<g class="k" transform="translate(230,1540) scale(0.21302)">
<path d="M668,505 C673.3,500 687.2,483.3 700,475 C712.8,466.7 728.3,459.2 745,455 C761.7,450.8 782.5,448.3 800,450 C817.5,451.7 836.7,457.5 850,465 C863.3,472.5 874.2,482.5 880,495 C885.8,507.5 886.7,525.8 885,540 C883.3,554.2 872.5,573.3 870,580"/>
<path d="M870,580 L700,725"/>
<path d="M700,725 C693.3,730 676.7,747 660,755 C643.3,763 619.2,770.8 600,773 C580.8,775.2 560.8,773.5 545,768 C529.2,762.5 513.8,751.3 505,740 C496.2,728.7 491.2,714.2 492,700 C492.8,685.8 501.2,666.7 510,655 C518.8,643.3 539.2,634.2 545,630"/>
<ellipse class="k" cx="773" cy="535" rx="56" ry="42" transform="rotate(-8 773 535)"/>
<path d="M590,778 L975,2250 M718,715 L1119,2218"/>
<path d="M975,2250 C977.5,2254.2 980.8,2268.7 990,2275 C999.2,2281.3 1014.2,2288.8 1030,2288 C1045.8,2287.2 1071.3,2277.2 1085,2270 C1098.7,2262.8 1106.3,2253.7 1112,2245 C1117.7,2236.3 1117.8,2222.5 1119,2218"/>
<path class="n" d="M460,280 L560,665 L690,640 L598,255 Z"/>
<path d="M460,280 L560,665 M598,255 L690,640"/>
<path d="M560,665 C564.2,670 573.3,688.7 585,695 C596.7,701.3 615.8,704.7 630,703 C644.2,701.3 660,695.5 670,685 C680,674.5 686.7,647.5 690,640"/>
<ellipse class="w" cx="527" cy="270" rx="71" ry="54" transform="rotate(-10 527 270)"/>
<path d="M650,58 L772,535 M810,665 L840,778 L993,632 L1063,895"/>
<ellipse class="w" cx="1140.2" cy="1167" rx="90" ry="68" transform="rotate(-10 1140.2 1167)"/>
<path d="M1051.2,1177 L1073.2,1257 M1230.2,1165 L1243.2,1222"/>
<path d="M1051.2,1177 C1054,1185 1055.9,1212.8 1068.2,1225 C1080.5,1237.2 1105.4,1248 1125.2,1250 C1145,1252 1170.4,1245.5 1187.2,1237 C1204,1228.5 1219,1211 1226.2,1199 C1233.4,1187 1229.5,1170.7 1230.2,1165"/>
<path d="M1073.2,1257 C1078.5,1262.8 1091.5,1284.8 1105.2,1292 C1118.9,1299.2 1137.7,1302.5 1155.2,1300 C1172.7,1297.5 1195.5,1290 1210.2,1277 C1224.9,1264 1237.7,1231.2 1243.2,1222"/>
<path class="n" d="M1037,970 L1085.2,1167 L1135.2,1195 L1175.2,1149 L1130,954 Z"/>
<ellipse class="w" cx="1083" cy="962" rx="48" ry="37" transform="rotate(-10 1083 962)"/>
<path d="M1037,970 L1085.2,1167 M1130,954 L1175.2,1149"/>
<path d="M1045.1,1003 C1048.1,1006.7 1054.7,1020.2 1063.1,1025 C1071.4,1029.8 1084.7,1033 1095.1,1032 C1105.4,1031 1117.9,1026.5 1125.1,1019 C1132.2,1011.5 1135.9,992.3 1138.1,987"/>
<path d="M1053.1,1036 C1056.1,1039.7 1062.8,1053.2 1071.1,1058 C1079.5,1062.8 1092.8,1066 1103.1,1065 C1113.5,1064 1126,1059.5 1133.1,1052 C1140.3,1044.5 1144,1025.3 1146.1,1020"/>
<path d="M1061.2,1069 C1064.2,1072.7 1070.9,1086.2 1079.2,1091 C1087.6,1095.8 1100.9,1099 1111.2,1098 C1121.6,1097 1134.1,1092.5 1141.2,1085 C1148.4,1077.5 1152.1,1058.3 1154.2,1053"/>
<path d="M1069.3,1102 C1072.3,1105.7 1079,1119.2 1087.3,1124 C1095.6,1128.8 1109,1132 1119.3,1131 C1129.6,1130 1142.1,1125.5 1149.3,1118 C1156.5,1110.5 1160.1,1091.3 1162.3,1086"/>
<path d="M1077.4,1135 C1080.4,1138.7 1087,1152.2 1095.4,1157 C1103.7,1161.8 1117,1165 1127.4,1164 C1137.7,1163 1150.2,1158.5 1157.4,1151 C1164.5,1143.5 1168.2,1124.3 1170.4,1119"/>
<path d="M1085.2,1167 C1088.2,1170.7 1094.9,1184.3 1103.2,1189 C1111.5,1193.7 1124.9,1197 1135.2,1195 C1145.5,1193 1158.5,1184.7 1165.2,1177 C1171.9,1169.3 1173.5,1153.7 1175.2,1149"/>
</g>

<!-- 80_fwd.svgfrag -->
<g transform="translate(130,2040) scale(0.073037)"><path d="M150,1180 L515,510 L625,570 L1315,190 L1432,240 L1432,772 L612,1235 L612,1405 Z M600,585 L600,745" fill="none" stroke="#000" stroke-width="3.3" stroke-linejoin="miter"/>
<path d="M258,1195 L578,600 M600,742 L1405,266" fill="none" stroke="#000" stroke-width="1.8"/></g>
<g opacity="0.999"><text transform="matrix(0.60,-0.347,-0.04,1,175.6,2124.2)" font-family="Liberation Sans, sans-serif" font-weight="bold" font-size="37" fill="#000" stroke="#000" stroke-width="1.5" stroke-linejoin="round">FWD</text></g>

<!-- 90_lines.svgfrag -->
<path class="k" d="M308,735.2 L473,830.6 M477.4,833.3 L483.1,836.7 M488.8,840 L632,922.7 M650.5,933.4 L671.5,945.8 M182.8,922.7 L233.7,822.3 M623.7,737.6 L620.3,844 M845.6,652.9 L825.8,770.7 M981.3,873.6 L881.8,923 M582.5,1191.5 L686.9,1185 M478.9,323 L451.5,422.5 M760.5,435.3 L660.7,462.1 M932.2,190.6 L896.4,299.5 M1213,468.3 L1297.1,369.2 L1247.1,488.5 M1365.3,418.2 L1280.5,514.1 M1276.7,1082.4 L1385.5,1042.3 L1377.1,1141 M1156.2,1345.2 L1266.6,1322.5 M1424.3,1570.8 L1472.9,1636.8 L1496.3,1503.6 M283.3,1810.5 L375.9,1788.2 M482.4,1815.9 L544,1885.9 M853,1705.2 L941.9,1705.2 M977.7,1705.2 L1050.7,1705.2 L1050.7,1908.5 L827.5,1908.5 M1050.7,1802.9 L1077.5,1802.9 M877.3,1084.9 L752.1,1200.6 M746.6,1205.5 L740.5,1210.3 M734.4,1215.8 L598.7,1340.2 M592.6,1346.3 L585,1353.3 M580.4,1357.5 L445,1480.2 M438.9,1486.3 L431.3,1492.4 M426.7,1497 L368.3,1552.3 M684.2,1085.5 L692.7,1122 M802,1264 L802,1449.8 M802,1457.4 L802,1466.5 M802,1474.1 L802,1541 M920.2,1159.4 L948.6,1264.9 L1004.5,1215.3 M1009.5,1210.6 L1015.6,1205.3 M1020.6,1200.6 L1076.8,1147.7 L1059.1,1075.7 L1090.2,1047.3 M1095.9,1042.3 L1100.9,1037.2 M1107,1032.2 L1199.7,946.9 L1211.4,997.1 M1213.7,1005.4 L1215.8,1013.8 M1218.1,1022.2 L1238.9,1097.5"/>
<g opacity="0.999">
<text class="t" x="177.8" y="955.5">6</text>
<text class="t" x="623" y="729.2">2</text>
<text class="t" x="845.6" y="643.5">2</text>
<text class="t" x="996.2" y="879.3">1</text>
<text class="t" x="566.7" y="1202.5">3</text>
<text class="t" x="480.3" y="314.4">8</text>
<text class="t" x="777.1" y="445.5">7</text>
<text class="t" x="932.2" y="179.7">13</text>
<text class="t" x="1296.7" y="359.2">14</text>
<text class="t" x="1367.8" y="409.1">15</text>
<text class="t" x="1388.2" y="1029.9">10</text>
<text class="t" x="1140.4" y="1357.9">9</text>
<text class="t" x="1471.6" y="1673">11</text>
<text class="t" x="259.8" y="1821.2">12</text>
<text class="t" x="553.6" y="1914.6">3</text>
<text class="t" x="959.7" y="1715.4">5</text>
<text class="t" x="1093.3" y="1816.7">4</text>
<text x="136.8" y="2185.3" font-family="Liberation Sans, sans-serif" font-size="30" fill="#000" stroke="none" textLength="211" lengthAdjust="spacingAndGlyphs">5SL1300-B070</text>
</g>

</svg>
</body></html>
